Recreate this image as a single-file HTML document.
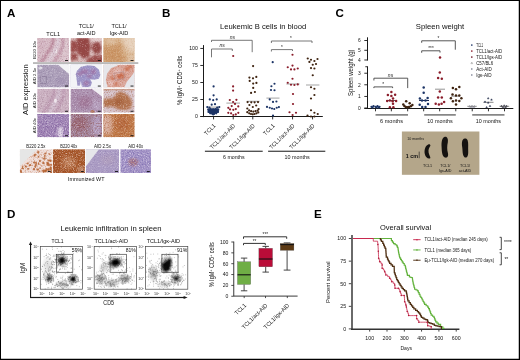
<!DOCTYPE html><html><head><meta charset="utf-8"><style>html,body{margin:0;padding:0;background:#fff;}svg{display:block;will-change:transform;}text{font-family:"Liberation Sans",sans-serif;}</style></head><body>
<svg width="520" height="360" viewBox="0 0 520 360">
<defs>
<filter id="tex" x="0" y="0" width="100%" height="100%"><feTurbulence type="fractalNoise" baseFrequency="0.9" numOctaves="2" seed="3"/><feColorMatrix type="matrix" values="0 0 0 0 0.4  0 0 0 0 0.2  0 0 0 0 0.3  0 0 0 -1.6 1.05"/></filter>
<filter id="texl" x="0" y="0" width="100%" height="100%"><feTurbulence type="fractalNoise" baseFrequency="0.9" numOctaves="2" seed="7"/><feColorMatrix type="matrix" values="0 0 0 0 1  0 0 0 0 1  0 0 0 0 1  0 0 0 1.8 -0.85"/></filter>
<filter id="bl1"><feGaussianBlur stdDeviation="1.2"/></filter>
<filter id="bl2"><feGaussianBlur stdDeviation="2"/></filter>
<filter id="bl05"><feGaussianBlur stdDeviation="0.5"/></filter>
</defs>
<rect x="0.00" y="0.00" width="520.00" height="360.00" fill="#fff"/>
<text x="7.00" y="16.90" font-size="11.6" text-anchor="start" font-weight="bold" fill="#000">A</text>
<text x="162.00" y="16.70" font-size="11.6" text-anchor="start" font-weight="bold" fill="#000">B</text>
<text x="335.40" y="17.30" font-size="11.6" text-anchor="start" font-weight="bold" fill="#000">C</text>
<text x="7.00" y="218.00" font-size="11.6" text-anchor="start" font-weight="bold" fill="#000">D</text>
<text x="314.00" y="217.90" font-size="11.6" text-anchor="start" font-weight="bold" fill="#000">E</text>
<text x="53.20" y="36.20" font-size="5.6" text-anchor="middle" font-weight="normal" fill="#111">TCL1</text>
<text x="86.30" y="28.30" font-size="5.6" text-anchor="middle" font-weight="normal" fill="#111">TCL1/</text>
<text x="86.30" y="34.60" font-size="5.6" text-anchor="middle" font-weight="normal" fill="#111">act-AID</text>
<text x="119.00" y="28.30" font-size="5.6" text-anchor="middle" font-weight="normal" fill="#111">TCL1/</text>
<text x="119.00" y="34.60" font-size="5.6" text-anchor="middle" font-weight="normal" fill="#111">Igκ-AID</text>
<rect x="33.00" y="62.30" width="105.30" height="1.50" fill="#a8a8a8"/>
<text x="35.60" y="50.00" font-size="4.3" text-anchor="middle" font-weight="normal" fill="#111" transform="rotate(-90 35.6 50.0)">B220 10x</text>
<text x="35.60" y="76.00" font-size="4.3" text-anchor="middle" font-weight="normal" fill="#111" transform="rotate(-90 35.6 76.0)">AID 2.5x</text>
<text x="35.60" y="100.70" font-size="4.3" text-anchor="middle" font-weight="normal" fill="#111" transform="rotate(-90 35.6 100.7)">AID 10x</text>
<text x="35.60" y="125.60" font-size="4.3" text-anchor="middle" font-weight="normal" fill="#111" transform="rotate(-90 35.6 125.6)">AID 40x</text>
<text x="27.60" y="89.70" font-size="8.0" text-anchor="middle" font-weight="normal" fill="#111" transform="rotate(-90 27.6 89.7)" textLength="50.6" lengthAdjust="spacingAndGlyphs">AID expression</text>
<clipPath id="c20"><rect x="37.20" y="38.00" width="32.00" height="24.00"/></clipPath>
<g clip-path="url(#c20)">
<rect x="37.20" y="38.00" width="32.00" height="24.00" fill="#dbc4cc"/>
<path d="M37.20,38.00 L51.60,38.00 L46.80,47.60 L39.76,62.00 L37.20,62.00 Z" fill="#d2b4c0" opacity="0.8" filter="url(#bl2)"/>
<path d="M53.84,36.80 L52.24,45.20 L47.76,52.40 L41.04,63.20" fill="none" stroke="#b27a90" stroke-width="2.6" stroke-linejoin="round" opacity="0.85" filter="url(#bl1)"/>
<path d="M63.44,36.80 L62.80,45.20 L59.60,53.60 L53.20,63.20" fill="none" stroke="#b8849a" stroke-width="2.4" stroke-linejoin="round" opacity="0.8" filter="url(#bl1)"/>
<path d="M58.64,36.80 L57.68,45.20 L53.84,52.88 L47.44,63.20" fill="none" stroke="#dccfdc" stroke-width="2.6" stroke-linejoin="round" opacity="0.8" filter="url(#bl1)"/>
<ellipse cx="56.40" cy="51.20" rx="0.8" ry="1.8" fill="#f4eef2" opacity="0.9" filter="url(#bl05)" transform="rotate(0 56.40 51.20)"/>
<filter id="sp1" x="37.20" y="38.00" width="32.00" height="24.00" filterUnits="userSpaceOnUse"><feTurbulence type="fractalNoise" baseFrequency="0.8" numOctaves="3" seed="2" result="n"/><feColorMatrix in="n" type="matrix" values="0 0 0 0 0  0 0 0 0 0  0 0 0 0 0  3.0 0 0 0 -1.5" result="al"/><feFlood flood-color="#a06880" result="f"/><feComposite in="f" in2="al" operator="in"/></filter>
<rect x="37.20" y="38.00" width="32.00" height="24.00" filter="url(#sp1)" opacity="0.45"/>
<filter id="sp2" x="37.20" y="38.00" width="32.00" height="24.00" filterUnits="userSpaceOnUse"><feTurbulence type="fractalNoise" baseFrequency="0.9" numOctaves="3" seed="9" result="n"/><feColorMatrix in="n" type="matrix" values="0 0 0 0 0  0 0 0 0 0  0 0 0 0 0  3.0 0 0 0 -1.6" result="al"/><feFlood flood-color="#f2e8ee" result="f"/><feComposite in="f" in2="al" operator="in"/></filter>
<rect x="37.20" y="38.00" width="32.00" height="24.00" filter="url(#sp2)" opacity="0.45"/>
<rect x="65.00" y="60.10" width="3.00" height="0.90" fill="#111"/>
</g>
<clipPath id="c34"><rect x="70.50" y="38.00" width="31.50" height="24.00"/></clipPath>
<g clip-path="url(#c34)">
<rect x="70.50" y="38.00" width="31.50" height="24.00" fill="#d9bcbc"/>
<path d="M76.80,38.00 L88.77,38.00 L90.66,46.40 L89.40,56.72 L83.10,58.40 L77.43,52.88 L76.17,45.20 Z" fill="#934240" opacity="0.95" filter="url(#bl1)"/>
<path d="M70.50,40.40 L76.80,41.60 L78.06,50.48 L72.08,52.88 L70.50,51.20 Z" fill="#974644" opacity="0.95" filter="url(#bl1)"/>
<path d="M70.50,53.84 L76.80,52.88 L78.06,59.60 L70.50,60.80 Z" fill="#974644" opacity="0.9" filter="url(#bl1)"/>
<path d="M92.55,43.28 L98.85,41.84 L101.69,47.60 L99.80,53.84 L93.81,53.36 L91.29,48.08 Z" fill="#934442" opacity="0.95" filter="url(#bl1)"/>
<path d="M86.88,58.64 L95.70,54.80 L103.58,55.76 L103.58,63.20 L86.25,63.20 Z" fill="#994846" opacity="0.92" filter="url(#bl1)"/>
<path d="M90.03,36.80 L103.58,36.80 L103.58,40.88 L93.18,41.36 Z" fill="#e6d2d2" opacity="0.9" filter="url(#bl1)"/>
<ellipse cx="91.29" cy="52.88" rx="1.5" ry="3" fill="#e4cccc" opacity="0.7" filter="url(#bl1)" transform="rotate(0 91.29 52.88)"/>
<filter id="sp3" x="70.50" y="38.00" width="31.50" height="24.00" filterUnits="userSpaceOnUse"><feTurbulence type="fractalNoise" baseFrequency="0.9" numOctaves="3" seed="3" result="n"/><feColorMatrix in="n" type="matrix" values="0 0 0 0 0  0 0 0 0 0  0 0 0 0 0  3.0 0 0 0 -1.5" result="al"/><feFlood flood-color="#8a3a3a" result="f"/><feComposite in="f" in2="al" operator="in"/></filter>
<rect x="70.50" y="38.00" width="31.50" height="24.00" filter="url(#sp3)" opacity="0.4"/>
<filter id="sp4" x="70.50" y="38.00" width="31.50" height="24.00" filterUnits="userSpaceOnUse"><feTurbulence type="fractalNoise" baseFrequency="0.9" numOctaves="3" seed="11" result="n"/><feColorMatrix in="n" type="matrix" values="0 0 0 0 0  0 0 0 0 0  0 0 0 0 0  3.0 0 0 0 -1.7" result="al"/><feFlood flood-color="#f4e6e6" result="f"/><feComposite in="f" in2="al" operator="in"/></filter>
<rect x="70.50" y="38.00" width="31.50" height="24.00" filter="url(#sp4)" opacity="0.4"/>
<rect x="97.80" y="60.10" width="3.00" height="0.90" fill="#111"/>
</g>
<clipPath id="c50"><rect x="103.30" y="38.00" width="31.40" height="24.00"/></clipPath>
<g clip-path="url(#c50)">
<rect x="103.30" y="38.00" width="31.40" height="24.00" fill="#d9b48e"/>
<path d="M101.73,45.20 L112.72,46.40 L119.00,42.80 L122.77,45.20 L120.57,52.40 L126.85,58.40 L122.14,63.20 L101.73,63.20 Z" fill="#c68c5a" opacity="0.75" filter="url(#bl2)"/>
<path d="M120.57,36.80 L136.27,36.80 L136.27,52.40 L128.42,51.20 L125.28,45.20 Z" fill="#e8d4c0" opacity="0.75" filter="url(#bl2)"/>
<ellipse cx="111.15" cy="40.88" rx="5" ry="3" fill="#e4ccb4" opacity="0.6" filter="url(#bl2)" transform="rotate(0 111.15 40.88)"/>
<ellipse cx="131.56" cy="58.40" rx="4" ry="4" fill="#e6d2c0" opacity="0.6" filter="url(#bl2)" transform="rotate(0 131.56 58.40)"/>
<filter id="sp5" x="103.30" y="38.00" width="31.40" height="24.00" filterUnits="userSpaceOnUse"><feTurbulence type="fractalNoise" baseFrequency="0.8" numOctaves="3" seed="4" result="n"/><feColorMatrix in="n" type="matrix" values="0 0 0 0 0  0 0 0 0 0  0 0 0 0 0  3.0 0 0 0 -1.5" result="al"/><feFlood flood-color="#b06e3a" result="f"/><feComposite in="f" in2="al" operator="in"/></filter>
<rect x="103.30" y="38.00" width="31.40" height="24.00" filter="url(#sp5)" opacity="0.35"/>
<filter id="sp6" x="103.30" y="38.00" width="31.40" height="24.00" filterUnits="userSpaceOnUse"><feTurbulence type="fractalNoise" baseFrequency="0.8" numOctaves="3" seed="13" result="n"/><feColorMatrix in="n" type="matrix" values="0 0 0 0 0  0 0 0 0 0  0 0 0 0 0  3.0 0 0 0 -1.55" result="al"/><feFlood flood-color="#f4e8dc" result="f"/><feComposite in="f" in2="al" operator="in"/></filter>
<rect x="103.30" y="38.00" width="31.40" height="24.00" filter="url(#sp6)" opacity="0.35"/>
<path d="M120.57,36.80 L136.27,36.80 L136.27,52.40 L128.42,51.20 L125.28,45.20 Z" fill="#ecdccc" opacity="0.45" filter="url(#bl2)"/>
<rect x="130.50" y="60.10" width="3.00" height="0.90" fill="#111"/>
</g>
<clipPath id="c64"><rect x="37.20" y="64.50" width="32.00" height="23.00"/></clipPath>
<g clip-path="url(#c64)">
<rect x="37.20" y="64.50" width="32.00" height="23.00" fill="#ada0ba"/>
<rect x="40.20" y="76.50" width="6" height="7" fill="none" stroke="#6a5a7a" stroke-width="0.5" opacity="0.7"/>
<ellipse cx="61.20" cy="80.60" rx="5" ry="4" fill="#a090b0" opacity="0.7" filter="url(#bl2)" transform="rotate(0 61.20 80.60)"/>
<ellipse cx="40.40" cy="67.95" rx="2" ry="1.5" fill="#f0f0f4" opacity="0.8" filter="url(#bl05)" transform="rotate(0 40.40 67.95)"/>
<filter id="sp7" x="37.20" y="64.50" width="32.00" height="23.00" filterUnits="userSpaceOnUse"><feTurbulence type="fractalNoise" baseFrequency="0.8" numOctaves="3" seed="5" result="n"/><feColorMatrix in="n" type="matrix" values="0 0 0 0 0  0 0 0 0 0  0 0 0 0 0  3.0 0 0 0 -1.5" result="al"/><feFlood flood-color="#847498" result="f"/><feComposite in="f" in2="al" operator="in"/></filter>
<rect x="37.20" y="64.50" width="32.00" height="23.00" filter="url(#sp7)" opacity="0.5"/>
<filter id="sp8" x="37.20" y="64.50" width="32.00" height="23.00" filterUnits="userSpaceOnUse"><feTurbulence type="fractalNoise" baseFrequency="0.9" numOctaves="3" seed="15" result="n"/><feColorMatrix in="n" type="matrix" values="0 0 0 0 0  0 0 0 0 0  0 0 0 0 0  3.0 0 0 0 -1.6" result="al"/><feFlood flood-color="#ece8f0" result="f"/><feComposite in="f" in2="al" operator="in"/></filter>
<rect x="37.20" y="64.50" width="32.00" height="23.00" filter="url(#sp8)" opacity="0.45"/>
<path d="M56.40,63.35 L70.80,63.35 L70.80,75.31 L66.00,71.40 Z" fill="#f2f2f5" opacity="1" filter="url(#bl05)"/>
<rect x="65.00" y="85.60" width="3.00" height="0.90" fill="#111"/>
</g>
<clipPath id="c77"><rect x="70.50" y="64.50" width="31.50" height="23.00"/></clipPath>
<g clip-path="url(#c77)">
<rect x="70.50" y="64.50" width="31.50" height="23.00" fill="#9e96c8"/>
<ellipse cx="84.67" cy="71.40" rx="4" ry="2.5" fill="#a06c9c" opacity="0.7" filter="url(#bl1)" transform="rotate(0 84.67 71.40)"/>
<ellipse cx="93.18" cy="71.86" rx="3" ry="2.5" fill="#a06c9c" opacity="0.7" filter="url(#bl1)" transform="rotate(0 93.18 71.86)"/>
<ellipse cx="79.95" cy="73.70" rx="3" ry="2" fill="#a06c9c" opacity="0.6" filter="url(#bl1)" transform="rotate(0 79.95 73.70)"/>
<ellipse cx="89.40" cy="76.00" rx="3" ry="2" fill="#a06c9c" opacity="0.6" filter="url(#bl1)" transform="rotate(0 89.40 76.00)"/>
<ellipse cx="86.25" cy="83.36" rx="3" ry="2.5" fill="#a06c9c" opacity="0.7" filter="url(#bl1)" transform="rotate(0 86.25 83.36)"/>
<filter id="sp9" x="70.50" y="64.50" width="31.50" height="23.00" filterUnits="userSpaceOnUse"><feTurbulence type="fractalNoise" baseFrequency="0.9" numOctaves="3" seed="6" result="n"/><feColorMatrix in="n" type="matrix" values="0 0 0 0 0  0 0 0 0 0  0 0 0 0 0  3.0 0 0 0 -1.45" result="al"/><feFlood flood-color="#8a70a8" result="f"/><feComposite in="f" in2="al" operator="in"/></filter>
<rect x="70.50" y="64.50" width="31.50" height="23.00" filter="url(#sp9)" opacity="0.35"/>
<filter id="sp10" x="70.50" y="64.50" width="31.50" height="23.00" filterUnits="userSpaceOnUse"><feTurbulence type="fractalNoise" baseFrequency="0.9" numOctaves="3" seed="12" result="n"/><feColorMatrix in="n" type="matrix" values="0 0 0 0 0  0 0 0 0 0  0 0 0 0 0  3.0 0 0 0 -1.5" result="al"/><feFlood flood-color="#ecebf6" result="f"/><feComposite in="f" in2="al" operator="in"/></filter>
<rect x="70.50" y="64.50" width="31.50" height="23.00" filter="url(#sp10)" opacity="0.4"/>
<path d="M68.92,63.35 L103.58,63.35 L103.58,88.65 L68.92,88.65 L68.92,76.00 L75.86,74.85 L76.48,78.30 L77.43,85.66 L79.95,85.66 L80.89,81.06 L81.84,86.58 L86.25,87.50 L90.66,86.35 L91.92,82.44 L90.03,79.22 L94.12,79.68 L98.85,78.76 L100.42,74.85 L98.85,69.56 L94.44,66.11 L87.83,65.19 L80.89,66.80 L76.80,70.94 L75.54,74.85 L68.92,76.00 Z" fill="#f3f3f7" opacity="1" filter="url(#bl05)"/>
<rect x="97.80" y="85.60" width="3.00" height="0.90" fill="#111"/>
</g>
<clipPath id="c92"><rect x="103.30" y="64.50" width="31.40" height="23.00"/></clipPath>
<g clip-path="url(#c92)">
<rect x="103.30" y="64.50" width="31.40" height="23.00" fill="#dba89c"/>
<ellipse cx="120.57" cy="76.00" rx="4" ry="3" fill="#c4603e" opacity="0.85" filter="url(#bl1)" transform="rotate(0 120.57 76.00)"/>
<ellipse cx="126.85" cy="69.10" rx="2.5" ry="2" fill="#c4603e" opacity="0.75" filter="url(#bl1)" transform="rotate(0 126.85 69.10)"/>
<ellipse cx="112.72" cy="78.30" rx="2.5" ry="2" fill="#c86a48" opacity="0.75" filter="url(#bl1)" transform="rotate(0 112.72 78.30)"/>
<ellipse cx="115.86" cy="84.05" rx="2.5" ry="2" fill="#c86a48" opacity="0.65" filter="url(#bl1)" transform="rotate(0 115.86 84.05)"/>
<ellipse cx="117.43" cy="71.40" rx="3" ry="2.5" fill="#ecd0d0" opacity="0.6" filter="url(#bl1)" transform="rotate(0 117.43 71.40)"/>
<ellipse cx="111.15" cy="82.90" rx="3" ry="2.5" fill="#ecd0d0" opacity="0.6" filter="url(#bl1)" transform="rotate(0 111.15 82.90)"/>
<ellipse cx="129.99" cy="66.80" rx="2.5" ry="2" fill="#c86a48" opacity="0.7" filter="url(#bl1)" transform="rotate(0 129.99 66.80)"/>
<rect x="114.30" y="72.50" width="10" height="7" fill="none" stroke="#8a7a8a" stroke-width="0.5" opacity="0.6" transform="rotate(-10 119.30 76.00)"/>
<filter id="sp11" x="103.30" y="64.50" width="31.40" height="23.00" filterUnits="userSpaceOnUse"><feTurbulence type="fractalNoise" baseFrequency="0.8" numOctaves="3" seed="7" result="n"/><feColorMatrix in="n" type="matrix" values="0 0 0 0 0  0 0 0 0 0  0 0 0 0 0  3.2 0 0 0 -1.55" result="al"/><feFlood flood-color="#bc5e40" result="f"/><feComposite in="f" in2="al" operator="in"/></filter>
<rect x="103.30" y="64.50" width="31.40" height="23.00" filter="url(#sp11)" opacity="0.45"/>
<filter id="sp12" x="103.30" y="64.50" width="31.40" height="23.00" filterUnits="userSpaceOnUse"><feTurbulence type="fractalNoise" baseFrequency="0.9" numOctaves="3" seed="17" result="n"/><feColorMatrix in="n" type="matrix" values="0 0 0 0 0  0 0 0 0 0  0 0 0 0 0  3.0 0 0 0 -1.6" result="al"/><feFlood flood-color="#f0e4e8" result="f"/><feComposite in="f" in2="al" operator="in"/></filter>
<rect x="103.30" y="64.50" width="31.40" height="23.00" filter="url(#sp12)" opacity="0.4"/>
<path d="M101.73,63.35 L117.43,63.35 L117.43,65.65 L111.15,67.95 L107.07,73.70 L105.81,80.60 L108.01,88.65 L101.73,88.65 Z" fill="#e6e6ea" opacity="1" filter="url(#bl05)"/>
<path d="M136.27,69.10 L131.56,76.00 L126.85,81.75 L123.71,88.65 L136.27,88.65 Z" fill="#e6e6ea" opacity="1" filter="url(#bl05)"/>
<rect x="130.50" y="85.60" width="3.00" height="0.90" fill="#111"/>
</g>
<clipPath id="c111"><rect x="37.20" y="88.70" width="32.00" height="24.00"/></clipPath>
<g clip-path="url(#c111)">
<rect x="37.20" y="88.70" width="32.00" height="24.00" fill="#ccb2c2"/>
<path d="M54.80,87.50 L53.20,95.90 L49.36,103.10 L42.96,113.90" fill="none" stroke="#b48ca8" stroke-width="2.6" stroke-linejoin="round" opacity="0.75" filter="url(#bl1)"/>
<path d="M64.40,87.50 L63.44,95.90 L60.24,104.30 L54.80,113.90" fill="none" stroke="#b890ac" stroke-width="2.4" stroke-linejoin="round" opacity="0.7" filter="url(#bl1)"/>
<path d="M59.60,87.50 L58.32,95.90 L54.80,103.58 L48.72,113.90" fill="none" stroke="#d8cadc" stroke-width="2.6" stroke-linejoin="round" opacity="0.7" filter="url(#bl1)"/>
<ellipse cx="55.44" cy="100.70" rx="1.3" ry="2" fill="#f6f0f4" opacity="0.95" filter="url(#bl05)" transform="rotate(0 55.44 100.70)"/>
<filter id="sp13" x="37.20" y="88.70" width="32.00" height="24.00" filterUnits="userSpaceOnUse"><feTurbulence type="fractalNoise" baseFrequency="0.8" numOctaves="3" seed="8" result="n"/><feColorMatrix in="n" type="matrix" values="0 0 0 0 0  0 0 0 0 0  0 0 0 0 0  3.0 0 0 0 -1.5" result="al"/><feFlood flood-color="#9c7890" result="f"/><feComposite in="f" in2="al" operator="in"/></filter>
<rect x="37.20" y="88.70" width="32.00" height="24.00" filter="url(#sp13)" opacity="0.5"/>
<filter id="sp14" x="37.20" y="88.70" width="32.00" height="24.00" filterUnits="userSpaceOnUse"><feTurbulence type="fractalNoise" baseFrequency="0.9" numOctaves="3" seed="19" result="n"/><feColorMatrix in="n" type="matrix" values="0 0 0 0 0  0 0 0 0 0  0 0 0 0 0  3.0 0 0 0 -1.6" result="al"/><feFlood flood-color="#efe6ee" result="f"/><feComposite in="f" in2="al" operator="in"/></filter>
<rect x="37.20" y="88.70" width="32.00" height="24.00" filter="url(#sp14)" opacity="0.5"/>
<rect x="65.00" y="110.80" width="3.00" height="0.90" fill="#111"/>
</g>
<clipPath id="c124"><rect x="70.50" y="88.70" width="31.50" height="24.00"/></clipPath>
<g clip-path="url(#c124)">
<rect x="70.50" y="88.70" width="31.50" height="24.00" fill="#ae94b2"/>
<ellipse cx="84.67" cy="101.90" rx="7" ry="6" fill="#a07494" opacity="0.8" filter="url(#bl2)" transform="rotate(0 84.67 101.90)"/>
<ellipse cx="75.22" cy="100.70" rx="4" ry="6" fill="#a486a6" opacity="0.6" filter="url(#bl2)" transform="rotate(0 75.22 100.70)"/>
<ellipse cx="97.28" cy="105.50" rx="4" ry="5" fill="#c4b4d0" opacity="0.6" filter="url(#bl2)" transform="rotate(0 97.28 105.50)"/>
<ellipse cx="92.55" cy="111.50" rx="2" ry="1.5" fill="#b0683c" opacity="0.8" filter="url(#bl05)" transform="rotate(0 92.55 111.50)"/>
<filter id="sp15" x="70.50" y="88.70" width="31.50" height="24.00" filterUnits="userSpaceOnUse"><feTurbulence type="fractalNoise" baseFrequency="0.8" numOctaves="3" seed="10" result="n"/><feColorMatrix in="n" type="matrix" values="0 0 0 0 0  0 0 0 0 0  0 0 0 0 0  3.0 0 0 0 -1.45" result="al"/><feFlood flood-color="#84587a" result="f"/><feComposite in="f" in2="al" operator="in"/></filter>
<rect x="70.50" y="88.70" width="31.50" height="24.00" filter="url(#sp15)" opacity="0.5"/>
<filter id="sp16" x="70.50" y="88.70" width="31.50" height="24.00" filterUnits="userSpaceOnUse"><feTurbulence type="fractalNoise" baseFrequency="0.9" numOctaves="3" seed="21" result="n"/><feColorMatrix in="n" type="matrix" values="0 0 0 0 0  0 0 0 0 0  0 0 0 0 0  3.0 0 0 0 -1.55" result="al"/><feFlood flood-color="#e6dcee" result="f"/><feComposite in="f" in2="al" operator="in"/></filter>
<rect x="70.50" y="88.70" width="31.50" height="24.00" filter="url(#sp16)" opacity="0.5"/>
<path d="M90.03,87.50 L103.58,87.50 L103.58,97.82 Z" fill="#f0eef2" opacity="1" filter="url(#bl05)"/>
<rect x="97.80" y="110.80" width="3.00" height="0.90" fill="#111"/>
</g>
<clipPath id="c138"><rect x="103.30" y="88.70" width="31.40" height="24.00"/></clipPath>
<g clip-path="url(#c138)">
<rect x="103.30" y="88.70" width="31.40" height="24.00" fill="#d6c4cc"/>
<path d="M103.30,98.78 L112.72,98.30 L116.49,93.50 L119.63,91.58 L124.02,92.54 L129.05,96.38 L132.19,101.90 L131.56,107.90 L125.91,110.30 L117.43,109.34 L112.72,106.46 L103.30,106.94 Z" fill="#b27048" opacity="0.95" filter="url(#bl1)"/>
<path d="M103.30,88.70 L134.70,88.70 L134.70,90.38 L103.30,90.38 Z" fill="#c08868" opacity="0.6" filter="url(#bl05)"/>
<ellipse cx="119.00" cy="101.90" rx="4" ry="3" fill="#a05a34" opacity="0.6" filter="url(#bl1)" transform="rotate(0 119.00 101.90)"/>
<filter id="sp17" x="103.30" y="88.70" width="31.40" height="24.00" filterUnits="userSpaceOnUse"><feTurbulence type="fractalNoise" baseFrequency="0.8" numOctaves="3" seed="12" result="n"/><feColorMatrix in="n" type="matrix" values="0 0 0 0 0  0 0 0 0 0  0 0 0 0 0  3.2 0 0 0 -1.6" result="al"/><feFlood flood-color="#9c5634" result="f"/><feComposite in="f" in2="al" operator="in"/></filter>
<rect x="103.30" y="88.70" width="31.40" height="24.00" filter="url(#sp17)" opacity="0.45"/>
<filter id="sp18" x="103.30" y="88.70" width="31.40" height="24.00" filterUnits="userSpaceOnUse"><feTurbulence type="fractalNoise" baseFrequency="0.9" numOctaves="3" seed="23" result="n"/><feColorMatrix in="n" type="matrix" values="0 0 0 0 0  0 0 0 0 0  0 0 0 0 0  3.0 0 0 0 -1.6" result="al"/><feFlood flood-color="#f4eaee" result="f"/><feComposite in="f" in2="al" operator="in"/></filter>
<rect x="103.30" y="88.70" width="31.40" height="24.00" filter="url(#sp18)" opacity="0.45"/>
<rect x="130.50" y="110.80" width="3.00" height="0.90" fill="#111"/>
</g>
<clipPath id="c150"><rect x="37.20" y="114.00" width="32.00" height="23.20"/></clipPath>
<g clip-path="url(#c150)">
<rect x="37.20" y="114.00" width="32.00" height="23.20" fill="#a286b6"/>
<ellipse cx="60.24" cy="132.56" rx="3" ry="6" fill="#ece4f0" opacity="0.85" filter="url(#bl1)" transform="rotate(0 60.24 132.56)"/>
<ellipse cx="46.80" cy="120.96" rx="6" ry="4" fill="#b4a0c6" opacity="0.5" filter="url(#bl2)" transform="rotate(0 46.80 120.96)"/>
<filter id="sp19" x="37.20" y="114.00" width="32.00" height="23.20" filterUnits="userSpaceOnUse"><feTurbulence type="fractalNoise" baseFrequency="0.9" numOctaves="3" seed="14" result="n"/><feColorMatrix in="n" type="matrix" values="0 0 0 0 0  0 0 0 0 0  0 0 0 0 0  3.0 0 0 0 -1.35" result="al"/><feFlood flood-color="#6e4e90" result="f"/><feComposite in="f" in2="al" operator="in"/></filter>
<rect x="37.20" y="114.00" width="32.00" height="23.20" filter="url(#sp19)" opacity="0.6"/>
<filter id="sp20" x="37.20" y="114.00" width="32.00" height="23.20" filterUnits="userSpaceOnUse"><feTurbulence type="fractalNoise" baseFrequency="0.9" numOctaves="3" seed="25" result="n"/><feColorMatrix in="n" type="matrix" values="0 0 0 0 0  0 0 0 0 0  0 0 0 0 0  3.0 0 0 0 -1.5" result="al"/><feFlood flood-color="#f0eaf4" result="f"/><feComposite in="f" in2="al" operator="in"/></filter>
<rect x="37.20" y="114.00" width="32.00" height="23.20" filter="url(#sp20)" opacity="0.55"/>
<rect x="65.00" y="135.30" width="3.00" height="0.90" fill="#111"/>
</g>
<clipPath id="c161"><rect x="70.50" y="114.00" width="31.50" height="23.20"/></clipPath>
<g clip-path="url(#c161)">
<rect x="70.50" y="114.00" width="31.50" height="23.20" fill="#a4869e"/>
<ellipse cx="79.95" cy="123.28" rx="8" ry="8" fill="#986270" opacity="0.7" filter="url(#bl2)" transform="rotate(0 79.95 123.28)"/>
<ellipse cx="97.28" cy="125.60" rx="5" ry="10" fill="#bcacd2" opacity="0.7" filter="url(#bl2)" transform="rotate(0 97.28 125.60)"/>
<filter id="sp21" x="70.50" y="114.00" width="31.50" height="23.20" filterUnits="userSpaceOnUse"><feTurbulence type="fractalNoise" baseFrequency="0.9" numOctaves="3" seed="16" result="n"/><feColorMatrix in="n" type="matrix" values="0 0 0 0 0  0 0 0 0 0  0 0 0 0 0  3.0 0 0 0 -1.4" result="al"/><feFlood flood-color="#843c2c" result="f"/><feComposite in="f" in2="al" operator="in"/></filter>
<rect x="70.50" y="114.00" width="31.50" height="23.20" filter="url(#sp21)" opacity="0.55"/>
<filter id="sp22" x="70.50" y="114.00" width="31.50" height="23.20" filterUnits="userSpaceOnUse"><feTurbulence type="fractalNoise" baseFrequency="0.9" numOctaves="3" seed="27" result="n"/><feColorMatrix in="n" type="matrix" values="0 0 0 0 0  0 0 0 0 0  0 0 0 0 0  3.0 0 0 0 -1.5" result="al"/><feFlood flood-color="#e8e0f0" result="f"/><feComposite in="f" in2="al" operator="in"/></filter>
<rect x="70.50" y="114.00" width="31.50" height="23.20" filter="url(#sp22)" opacity="0.5"/>
<rect x="97.80" y="135.30" width="3.00" height="0.90" fill="#111"/>
</g>
<clipPath id="c172"><rect x="103.30" y="114.00" width="31.40" height="23.20"/></clipPath>
<g clip-path="url(#c172)">
<rect x="103.30" y="114.00" width="31.40" height="23.20" fill="#c27c4a"/>
<ellipse cx="107.07" cy="124.44" rx="6" ry="11" fill="#e0c0bc" opacity="0.75" filter="url(#bl2)" transform="rotate(0 107.07 124.44)"/>
<ellipse cx="122.14" cy="123.28" rx="8" ry="8" fill="#b4643a" opacity="0.6" filter="url(#bl2)" transform="rotate(0 122.14 123.28)"/>
<filter id="sp23" x="103.30" y="114.00" width="31.40" height="23.20" filterUnits="userSpaceOnUse"><feTurbulence type="fractalNoise" baseFrequency="0.9" numOctaves="3" seed="18" result="n"/><feColorMatrix in="n" type="matrix" values="0 0 0 0 0  0 0 0 0 0  0 0 0 0 0  3.0 0 0 0 -1.4" result="al"/><feFlood flood-color="#a0542a" result="f"/><feComposite in="f" in2="al" operator="in"/></filter>
<rect x="103.30" y="114.00" width="31.40" height="23.20" filter="url(#sp23)" opacity="0.55"/>
<filter id="sp24" x="103.30" y="114.00" width="31.40" height="23.20" filterUnits="userSpaceOnUse"><feTurbulence type="fractalNoise" baseFrequency="0.9" numOctaves="3" seed="29" result="n"/><feColorMatrix in="n" type="matrix" values="0 0 0 0 0  0 0 0 0 0  0 0 0 0 0  3.0 0 0 0 -1.5" result="al"/><feFlood flood-color="#f4e4dc" result="f"/><feComposite in="f" in2="al" operator="in"/></filter>
<rect x="103.30" y="114.00" width="31.40" height="23.20" filter="url(#sp24)" opacity="0.5"/>
<rect x="130.50" y="135.30" width="3.00" height="0.90" fill="#111"/>
</g>
<clipPath id="c183"><rect x="19.90" y="149.20" width="32.00" height="23.80"/></clipPath>
<g clip-path="url(#c183)">
<rect x="19.90" y="149.20" width="32.00" height="23.80" fill="#f0e0dc"/>
<ellipse cx="34.38" cy="162.52" rx="1.5317895256213565" ry="1.0259550490698413" fill="#b4602e" opacity="0.85" filter="url(#bl05)" transform="rotate(0 34.38 162.52)"/>
<ellipse cx="36.15" cy="163.18" rx="0.8661943094693889" ry="1.0583360473292638" fill="#b4602e" opacity="0.85" filter="url(#bl05)" transform="rotate(0 36.15 163.18)"/>
<ellipse cx="40.06" cy="168.07" rx="0.7847111106062966" ry="0.9123808838371678" fill="#b4602e" opacity="0.85" filter="url(#bl05)" transform="rotate(0 40.06 168.07)"/>
<ellipse cx="22.80" cy="168.47" rx="1.3240946342871154" ry="0.7293162354588921" fill="#b4602e" opacity="0.85" filter="url(#bl05)" transform="rotate(0 22.80 168.47)"/>
<ellipse cx="51.33" cy="172.16" rx="1.2885302801804563" ry="1.1308938932049994" fill="#b4602e" opacity="0.85" filter="url(#bl05)" transform="rotate(0 51.33 172.16)"/>
<ellipse cx="34.00" cy="169.25" rx="1.167211703287669" ry="1.148204195543424" fill="#b4602e" opacity="0.85" filter="url(#bl05)" transform="rotate(0 34.00 169.25)"/>
<ellipse cx="35.89" cy="164.97" rx="1.1115968934396019" ry="0.89471402976472" fill="#b4602e" opacity="0.85" filter="url(#bl05)" transform="rotate(0 35.89 164.97)"/>
<ellipse cx="51.82" cy="172.90" rx="1.4561939945435758" ry="1.1954667350485646" fill="#b4602e" opacity="0.85" filter="url(#bl05)" transform="rotate(0 51.82 172.90)"/>
<ellipse cx="44.42" cy="158.73" rx="1.4619252596930608" ry="0.9705594721941541" fill="#b4602e" opacity="0.85" filter="url(#bl05)" transform="rotate(0 44.42 158.73)"/>
<ellipse cx="50.56" cy="169.37" rx="0.7004904433500134" ry="0.8468021903107277" fill="#b4602e" opacity="0.85" filter="url(#bl05)" transform="rotate(0 50.56 169.37)"/>
<ellipse cx="49.03" cy="160.39" rx="1.582323047056863" ry="0.9781970716554967" fill="#b4602e" opacity="0.85" filter="url(#bl05)" transform="rotate(0 49.03 160.39)"/>
<ellipse cx="44.81" cy="155.62" rx="0.778429778516953" ry="0.9328099378243435" fill="#b4602e" opacity="0.85" filter="url(#bl05)" transform="rotate(0 44.81 155.62)"/>
<ellipse cx="50.75" cy="167.24" rx="0.8061925114775956" ry="0.8724715642251909" fill="#b4602e" opacity="0.85" filter="url(#bl05)" transform="rotate(0 50.75 167.24)"/>
<ellipse cx="45.40" cy="153.43" rx="1.2033656274493554" ry="1.013197414250715" fill="#b4602e" opacity="0.85" filter="url(#bl05)" transform="rotate(0 45.40 153.43)"/>
<ellipse cx="26.00" cy="166.62" rx="0.8178703753449577" ry="1.1506005865978168" fill="#b4602e" opacity="0.85" filter="url(#bl05)" transform="rotate(0 26.00 166.62)"/>
<ellipse cx="50.97" cy="168.32" rx="0.9737306348838906" ry="1.3194055789242793" fill="#b4602e" opacity="0.85" filter="url(#bl05)" transform="rotate(0 50.97 168.32)"/>
<ellipse cx="47.24" cy="164.48" rx="0.7902994769654946" ry="1.3925111882571206" fill="#b4602e" opacity="0.85" filter="url(#bl05)" transform="rotate(0 47.24 164.48)"/>
<ellipse cx="44.63" cy="157.03" rx="0.9666922863390517" ry="0.7513789873718969" fill="#b4602e" opacity="0.85" filter="url(#bl05)" transform="rotate(0 44.63 157.03)"/>
<ellipse cx="27.68" cy="163.51" rx="1.0345336419339053" ry="1.0172456733066944" fill="#b4602e" opacity="0.85" filter="url(#bl05)" transform="rotate(0 27.68 163.51)"/>
<ellipse cx="50.59" cy="160.71" rx="1.217114120886953" ry="1.3065679674615556" fill="#b4602e" opacity="0.85" filter="url(#bl05)" transform="rotate(0 50.59 160.71)"/>
<ellipse cx="48.97" cy="168.66" rx="0.9245487097863246" ry="0.832860466174282" fill="#b4602e" opacity="0.85" filter="url(#bl05)" transform="rotate(0 48.97 168.66)"/>
<ellipse cx="43.56" cy="171.58" rx="0.8769308158626898" ry="1.3650950966160518" fill="#b4602e" opacity="0.85" filter="url(#bl05)" transform="rotate(0 43.56 171.58)"/>
<ellipse cx="48.13" cy="163.56" rx="1.079311501552622" ry="0.7726877769554635" fill="#b4602e" opacity="0.85" filter="url(#bl05)" transform="rotate(0 48.13 163.56)"/>
<ellipse cx="21.14" cy="172.11" rx="0.9145664734083845" ry="1.1932056223908638" fill="#b4602e" opacity="0.85" filter="url(#bl05)" transform="rotate(0 21.14 172.11)"/>
<ellipse cx="28.12" cy="168.80" rx="1.236819675876942" ry="0.9054047425393159" fill="#b4602e" opacity="0.85" filter="url(#bl05)" transform="rotate(0 28.12 168.80)"/>
<ellipse cx="25.51" cy="166.34" rx="0.7618985117506992" ry="0.8598774361275876" fill="#b4602e" opacity="0.85" filter="url(#bl05)" transform="rotate(0 25.51 166.34)"/>
<ellipse cx="37.80" cy="169.49" rx="1.2528727141523812" ry="0.8961535747995985" fill="#b4602e" opacity="0.85" filter="url(#bl05)" transform="rotate(0 37.80 169.49)"/>
<ellipse cx="49.26" cy="154.05" rx="0.7149173137712396" ry="0.8884357496201887" fill="#b4602e" opacity="0.85" filter="url(#bl05)" transform="rotate(0 49.26 154.05)"/>
<ellipse cx="38.21" cy="152.33" rx="1.0259306410295328" ry="1.3236581609788687" fill="#b4602e" opacity="0.85" filter="url(#bl05)" transform="rotate(0 38.21 152.33)"/>
<ellipse cx="51.28" cy="164.83" rx="1.3220994321237882" ry="1.1091081877261253" fill="#b4602e" opacity="0.85" filter="url(#bl05)" transform="rotate(0 51.28 164.83)"/>
<ellipse cx="20.47" cy="170.86" rx="1.3308730168687122" ry="1.373939709540302" fill="#b4602e" opacity="0.85" filter="url(#bl05)" transform="rotate(0 20.47 170.86)"/>
<ellipse cx="35.33" cy="166.59" rx="0.9870140412669273" ry="1.3995503384672285" fill="#b4602e" opacity="0.85" filter="url(#bl05)" transform="rotate(0 35.33 166.59)"/>
<ellipse cx="43.48" cy="170.62" rx="1.363379320974904" ry="1.192583433469244" fill="#b4602e" opacity="0.85" filter="url(#bl05)" transform="rotate(0 43.48 170.62)"/>
<ellipse cx="45.28" cy="170.98" rx="1.0166506869825285" ry="1.1796021687335885" fill="#b4602e" opacity="0.85" filter="url(#bl05)" transform="rotate(0 45.28 170.98)"/>
<ellipse cx="48.73" cy="169.93" rx="1.0754378277794674" ry="1.2533724004118796" fill="#b4602e" opacity="0.85" filter="url(#bl05)" transform="rotate(0 48.73 169.93)"/>
<ellipse cx="47.53" cy="162.83" rx="1.2624644919934773" ry="0.9676334691451749" fill="#b4602e" opacity="0.85" filter="url(#bl05)" transform="rotate(0 47.53 162.83)"/>
<ellipse cx="38.55" cy="163.69" rx="0.7721818259476392" ry="1.1475830188461111" fill="#b4602e" opacity="0.85" filter="url(#bl05)" transform="rotate(0 38.55 163.69)"/>
<ellipse cx="51.69" cy="170.14" rx="1.3553863689089931" ry="0.9719054322986008" fill="#b4602e" opacity="0.85" filter="url(#bl05)" transform="rotate(0 51.69 170.14)"/>
<ellipse cx="43.42" cy="163.03" rx="1.0964702458408475" ry="1.286859020433398" fill="#b4602e" opacity="0.85" filter="url(#bl05)" transform="rotate(0 43.42 163.03)"/>
<ellipse cx="22.58" cy="167.06" rx="0.7268108470679184" ry="1.1208996851847512" fill="#b4602e" opacity="0.85" filter="url(#bl05)" transform="rotate(0 22.58 167.06)"/>
<ellipse cx="35.29" cy="154.68" rx="1.3285012118637296" ry="1.0480754043606093" fill="#b4602e" opacity="0.85" filter="url(#bl05)" transform="rotate(0 35.29 154.68)"/>
<ellipse cx="39.56" cy="171.11" rx="0.9302471980957434" ry="0.7079150435147132" fill="#b4602e" opacity="0.85" filter="url(#bl05)" transform="rotate(0 39.56 171.11)"/>
<ellipse cx="29.53" cy="165.34" rx="0.8823169720661279" ry="0.8187250072333208" fill="#b4602e" opacity="0.85" filter="url(#bl05)" transform="rotate(0 29.53 165.34)"/>
<ellipse cx="48.88" cy="164.91" rx="1.097739232692718" ry="1.3242088442224158" fill="#b4602e" opacity="0.85" filter="url(#bl05)" transform="rotate(0 48.88 164.91)"/>
<ellipse cx="30.36" cy="165.05" rx="0.8786552009787844" ry="1.0016266976490587" fill="#b4602e" opacity="0.85" filter="url(#bl05)" transform="rotate(0 30.36 165.05)"/>
<ellipse cx="45.69" cy="170.96" rx="1.4922420262751754" ry="0.969093078029932" fill="#b4602e" opacity="0.85" filter="url(#bl05)" transform="rotate(0 45.69 170.96)"/>
<ellipse cx="38.56" cy="156.73" rx="0.8225586937449683" ry="1.0475269291216254" fill="#b4602e" opacity="0.85" filter="url(#bl05)" transform="rotate(0 38.56 156.73)"/>
<ellipse cx="46.69" cy="169.40" rx="1.340095985365846" ry="1.3650001062918604" fill="#b4602e" opacity="0.85" filter="url(#bl05)" transform="rotate(0 46.69 169.40)"/>
<ellipse cx="34.32" cy="155.75" rx="0.8926723394379505" ry="0.9897893605216119" fill="#b4602e" opacity="0.85" filter="url(#bl05)" transform="rotate(0 34.32 155.75)"/>
<ellipse cx="39.92" cy="160.95" rx="0.983834480826921" ry="1.287382888714458" fill="#b4602e" opacity="0.85" filter="url(#bl05)" transform="rotate(0 39.92 160.95)"/>
<filter id="sp25" x="19.90" y="149.20" width="32.00" height="23.80" filterUnits="userSpaceOnUse"><feTurbulence type="fractalNoise" baseFrequency="0.9" numOctaves="3" seed="31" result="n"/><feColorMatrix in="n" type="matrix" values="0 0 0 0 0  0 0 0 0 0  0 0 0 0 0  3.2 0 0 0 -1.5" result="al"/><feFlood flood-color="#c47a54" result="f"/><feComposite in="f" in2="al" operator="in"/></filter>
<rect x="19.90" y="149.20" width="32.00" height="23.80" filter="url(#sp25)" opacity="0.6"/>
<path d="M18.30,148.01 L38.46,148.01 L18.30,167.76 Z" fill="#e6e6e6" opacity="1" filter="url(#bl05)"/>
<rect x="47.70" y="171.10" width="3.00" height="0.90" fill="#111"/>
</g>
<clipPath id="c241"><rect x="52.70" y="149.20" width="32.30" height="23.80"/></clipPath>
<g clip-path="url(#c241)">
<rect x="52.70" y="149.20" width="32.30" height="23.80" fill="#a8582c"/>
<ellipse cx="68.85" cy="162.29" rx="7" ry="6" fill="#d4a080" opacity="0.6" filter="url(#bl2)" transform="rotate(0 68.85 162.29)"/>
<ellipse cx="81.77" cy="169.43" rx="4" ry="3" fill="#e8d0c4" opacity="0.6" filter="url(#bl2)" transform="rotate(0 81.77 169.43)"/>
<filter id="sp26" x="52.70" y="149.20" width="32.30" height="23.80" filterUnits="userSpaceOnUse"><feTurbulence type="fractalNoise" baseFrequency="0.9" numOctaves="3" seed="33" result="n"/><feColorMatrix in="n" type="matrix" values="0 0 0 0 0  0 0 0 0 0  0 0 0 0 0  3.0 0 0 0 -1.4" result="al"/><feFlood flood-color="#8c4018" result="f"/><feComposite in="f" in2="al" operator="in"/></filter>
<rect x="52.70" y="149.20" width="32.30" height="23.80" filter="url(#sp26)" opacity="0.6"/>
<filter id="sp27" x="52.70" y="149.20" width="32.30" height="23.80" filterUnits="userSpaceOnUse"><feTurbulence type="fractalNoise" baseFrequency="0.9" numOctaves="3" seed="35" result="n"/><feColorMatrix in="n" type="matrix" values="0 0 0 0 0  0 0 0 0 0  0 0 0 0 0  3.0 0 0 0 -1.45" result="al"/><feFlood flood-color="#f2dcd0" result="f"/><feComposite in="f" in2="al" operator="in"/></filter>
<rect x="52.70" y="149.20" width="32.30" height="23.80" filter="url(#sp27)" opacity="0.65"/>
<rect x="80.80" y="171.10" width="3.00" height="0.90" fill="#111"/>
</g>
<clipPath id="c252"><rect x="85.80" y="149.20" width="33.40" height="23.80"/></clipPath>
<g clip-path="url(#c252)">
<rect x="85.80" y="149.20" width="33.40" height="23.80" fill="#ab9cc4"/>
<ellipse cx="107.51" cy="159.91" rx="7" ry="5" fill="#b4a0bc" opacity="0.6" filter="url(#bl2)" transform="rotate(0 107.51 159.91)"/>
<filter id="sp28" x="85.80" y="149.20" width="33.40" height="23.80" filterUnits="userSpaceOnUse"><feTurbulence type="fractalNoise" baseFrequency="0.9" numOctaves="3" seed="37" result="n"/><feColorMatrix in="n" type="matrix" values="0 0 0 0 0  0 0 0 0 0  0 0 0 0 0  3.0 0 0 0 -1.5" result="al"/><feFlood flood-color="#8a78aa" result="f"/><feComposite in="f" in2="al" operator="in"/></filter>
<rect x="85.80" y="149.20" width="33.40" height="23.80" filter="url(#sp28)" opacity="0.5"/>
<filter id="sp29" x="85.80" y="149.20" width="33.40" height="23.80" filterUnits="userSpaceOnUse"><feTurbulence type="fractalNoise" baseFrequency="0.9" numOctaves="3" seed="39" result="n"/><feColorMatrix in="n" type="matrix" values="0 0 0 0 0  0 0 0 0 0  0 0 0 0 0  3.0 0 0 0 -1.6" result="al"/><feFlood flood-color="#ece6f0" result="f"/><feComposite in="f" in2="al" operator="in"/></filter>
<rect x="85.80" y="149.20" width="33.40" height="23.80" filter="url(#sp29)" opacity="0.5"/>
<path d="M84.13,148.01 L99.83,148.01 L84.13,168.72 Z" fill="#e6e6ea" opacity="1" filter="url(#bl05)"/>
<rect x="115.00" y="171.10" width="3.00" height="0.90" fill="#111"/>
</g>
<clipPath id="c263"><rect x="120.30" y="149.20" width="30.70" height="23.80"/></clipPath>
<g clip-path="url(#c263)">
<rect x="120.30" y="149.20" width="30.70" height="23.80" fill="#a494c6"/>
<ellipse cx="133.19" cy="162.29" rx="5" ry="4" fill="#a86a6a" opacity="0.7" filter="url(#bl1)" transform="rotate(0 133.19 162.29)"/>
<filter id="sp30" x="120.30" y="149.20" width="30.70" height="23.80" filterUnits="userSpaceOnUse"><feTurbulence type="fractalNoise" baseFrequency="0.9" numOctaves="3" seed="41" result="n"/><feColorMatrix in="n" type="matrix" values="0 0 0 0 0  0 0 0 0 0  0 0 0 0 0  3.0 0 0 0 -1.4" result="al"/><feFlood flood-color="#6e5ea8" result="f"/><feComposite in="f" in2="al" operator="in"/></filter>
<rect x="120.30" y="149.20" width="30.70" height="23.80" filter="url(#sp30)" opacity="0.6"/>
<filter id="sp31" x="120.30" y="149.20" width="30.70" height="23.80" filterUnits="userSpaceOnUse"><feTurbulence type="fractalNoise" baseFrequency="0.9" numOctaves="3" seed="43" result="n"/><feColorMatrix in="n" type="matrix" values="0 0 0 0 0  0 0 0 0 0  0 0 0 0 0  3.0 0 0 0 -1.45" result="al"/><feFlood flood-color="#eee8f6" result="f"/><feComposite in="f" in2="al" operator="in"/></filter>
<rect x="120.30" y="149.20" width="30.70" height="23.80" filter="url(#sp31)" opacity="0.6"/>
<rect x="146.80" y="171.10" width="3.00" height="0.90" fill="#111"/>
</g>
<text x="35.90" y="148.40" font-size="4.6" text-anchor="middle" font-weight="normal" fill="#111" textLength="19.080000000000002" lengthAdjust="spacingAndGlyphs">B220 2.5x</text>
<text x="68.85" y="148.40" font-size="4.6" text-anchor="middle" font-weight="normal" fill="#111" textLength="16.96" lengthAdjust="spacingAndGlyphs">B220 40x</text>
<text x="102.50" y="148.40" font-size="4.6" text-anchor="middle" font-weight="normal" fill="#111" textLength="16.96" lengthAdjust="spacingAndGlyphs">AID 2.5x</text>
<text x="135.65" y="148.40" font-size="4.6" text-anchor="middle" font-weight="normal" fill="#111" textLength="14.84" lengthAdjust="spacingAndGlyphs">AID 40x</text>
<text x="86.30" y="180.70" font-size="6.1" text-anchor="middle" font-weight="normal" fill="#111" textLength="36.5" lengthAdjust="spacingAndGlyphs">Immunized WT</text>
<text x="263.10" y="29.20" font-size="7.5" text-anchor="middle" font-weight="normal" fill="#111" textLength="86.2" lengthAdjust="spacingAndGlyphs">Leukemic B cells in blood</text>
<rect x="203.00" y="45.10" width="1.00" height="72.00" fill="#1a1a1a"/>
<rect x="200.30" y="116.05" width="3.00" height="0.90" fill="#1a1a1a"/>
<text x="197.90" y="118.40" font-size="5.2" text-anchor="end" font-weight="normal" fill="#151515">0</text>
<rect x="200.30" y="99.02" width="3.00" height="0.90" fill="#1a1a1a"/>
<text x="197.90" y="101.38" font-size="5.2" text-anchor="end" font-weight="normal" fill="#151515">25</text>
<rect x="200.30" y="82.00" width="3.00" height="0.90" fill="#1a1a1a"/>
<text x="197.90" y="84.35" font-size="5.2" text-anchor="end" font-weight="normal" fill="#151515">50</text>
<rect x="200.30" y="64.97" width="3.00" height="0.90" fill="#1a1a1a"/>
<text x="197.90" y="67.33" font-size="5.2" text-anchor="end" font-weight="normal" fill="#151515">75</text>
<rect x="200.30" y="47.95" width="3.00" height="0.90" fill="#1a1a1a"/>
<text x="197.90" y="50.30" font-size="5.2" text-anchor="end" font-weight="normal" fill="#151515">100</text>
<text x="182.00" y="80.40" font-size="6.3" text-anchor="middle" font-weight="normal" fill="#151515" transform="rotate(-90 182.0 80.4)" textLength="49.2" lengthAdjust="spacingAndGlyphs">% IgM<tspan dy="-2" font-size="4.2">+</tspan><tspan dy="2"> CD5</tspan><tspan dy="-2" font-size="4.2">+</tspan><tspan dy="2"> cells</tspan></text>
<rect x="200.30" y="116.00" width="122.50" height="1.00" fill="#1a1a1a"/>
<rect x="213.15" y="116.50" width="0.90" height="2.90" fill="#1a1a1a"/>
<text x="216.00" y="126.20" font-size="5.8" text-anchor="end" font-weight="normal" fill="#151515" transform="rotate(-45 216.0 126.2)" textLength="13.5" lengthAdjust="spacingAndGlyphs">TCL1</text>
<rect x="232.75" y="116.50" width="0.90" height="2.90" fill="#1a1a1a"/>
<text x="235.60" y="126.20" font-size="5.8" text-anchor="end" font-weight="normal" fill="#151515" transform="rotate(-45 235.6 126.2)" textLength="33.0" lengthAdjust="spacingAndGlyphs">TCL1/act-AID</text>
<rect x="252.35" y="116.50" width="0.90" height="2.90" fill="#1a1a1a"/>
<text x="255.20" y="126.20" font-size="5.8" text-anchor="end" font-weight="normal" fill="#151515" transform="rotate(-45 255.20000000000002 126.2)" textLength="33.0" lengthAdjust="spacingAndGlyphs">TCL1/Igκ-AID</text>
<rect x="272.25" y="116.50" width="0.90" height="2.90" fill="#1a1a1a"/>
<text x="275.10" y="126.20" font-size="5.8" text-anchor="end" font-weight="normal" fill="#151515" transform="rotate(-45 275.09999999999997 126.2)" textLength="13.5" lengthAdjust="spacingAndGlyphs">TCL1</text>
<rect x="292.15" y="116.50" width="0.90" height="2.90" fill="#1a1a1a"/>
<text x="295.00" y="126.20" font-size="5.8" text-anchor="end" font-weight="normal" fill="#151515" transform="rotate(-45 295.0 126.2)" textLength="33.0" lengthAdjust="spacingAndGlyphs">TCL1/act-AID</text>
<rect x="312.15" y="116.50" width="0.90" height="2.90" fill="#1a1a1a"/>
<text x="315.00" y="126.20" font-size="5.8" text-anchor="end" font-weight="normal" fill="#151515" transform="rotate(-45 315.0 126.2)" textLength="33.0" lengthAdjust="spacingAndGlyphs">TCL1/Igκ-AID</text>
<rect x="204.90" y="150.70" width="57.80" height="1.10" fill="#2a2a2a"/>
<rect x="268.10" y="150.70" width="57.20" height="1.10" fill="#2a2a2a"/>
<text x="233.80" y="159.10" font-size="5.3" text-anchor="middle" font-weight="normal" fill="#151515" textLength="21.6" lengthAdjust="spacingAndGlyphs">6 months</text>
<text x="297.00" y="159.10" font-size="5.3" text-anchor="middle" font-weight="normal" fill="#151515" textLength="25.2" lengthAdjust="spacingAndGlyphs">10 months</text>
<polyline points="211.50,42.00 211.50,40.30 252.20,40.30 252.20,52.20" stroke="#555" stroke-width="0.8" fill="none"/>
<polyline points="211.50,57.30 211.50,49.00 232.30,49.00 232.30,51.00" stroke="#555" stroke-width="0.8" fill="none"/>
<text x="232.40" y="38.80" font-size="5.0" text-anchor="middle" font-weight="normal" fill="#222" font-style="italic">ns</text>
<text x="222.10" y="47.30" font-size="5.0" text-anchor="middle" font-weight="normal" fill="#222" font-style="italic">ns</text>
<polyline points="271.40,43.00 271.40,41.00 312.00,41.00 312.00,43.00" stroke="#555" stroke-width="0.8" fill="none"/>
<polyline points="271.40,51.50 271.40,49.60 292.50,49.60 292.50,51.00" stroke="#555" stroke-width="0.8" fill="none"/>
<text x="291.00" y="40.00" font-size="4.6" text-anchor="middle" font-weight="normal" fill="#222">*</text>
<text x="282.00" y="48.50" font-size="4.6" text-anchor="middle" font-weight="normal" fill="#222">*</text>
<line x1="206.90" y1="107.10" x2="220.00" y2="107.10" stroke="#999" stroke-width="0.9"/>
<line x1="226.40" y1="103.10" x2="240.00" y2="103.10" stroke="#999" stroke-width="0.9"/>
<line x1="246.80" y1="101.30" x2="259.60" y2="101.30" stroke="#999" stroke-width="0.9"/>
<line x1="266.40" y1="98.10" x2="279.50" y2="98.10" stroke="#999" stroke-width="0.9"/>
<line x1="286.40" y1="84.00" x2="299.50" y2="84.00" stroke="#999" stroke-width="0.9"/>
<line x1="306.00" y1="85.00" x2="319.40" y2="85.00" stroke="#999" stroke-width="0.9"/>
<path d="M207.6,108.3 L210,108.6 L213.2,108.3 L216.4,108.6 L218.8,108.3 L218.4,111 L219,112.4 L216,113.6 L213.2,114.6 L210.4,113.6 L207.6,112.4 L208.1,111 Z" fill="#1c3466"/>
<circle cx="213.60" cy="86.40" r="1.1" fill="#1c3466"/>
<circle cx="213.60" cy="95.30" r="1.1" fill="#1c3466"/>
<circle cx="209.80" cy="99.40" r="1.1" fill="#1c3466"/>
<circle cx="213.20" cy="100.20" r="1.1" fill="#1c3466"/>
<circle cx="216.70" cy="99.40" r="1.1" fill="#1c3466"/>
<circle cx="211.70" cy="104.70" r="1.1" fill="#1c3466"/>
<circle cx="215.00" cy="104.20" r="1.1" fill="#1c3466"/>
<circle cx="207.30" cy="107.10" r="1.1" fill="#1c3466"/>
<circle cx="219.30" cy="107.10" r="1.1" fill="#1c3466"/>
<circle cx="209.50" cy="107.60" r="1.1" fill="#1c3466"/>
<circle cx="217.20" cy="107.60" r="1.1" fill="#1c3466"/>
<circle cx="208.20" cy="109.80" r="1.1" fill="#1c3466"/>
<circle cx="210.50" cy="109.20" r="1.1" fill="#1c3466"/>
<circle cx="213.20" cy="109.50" r="1.1" fill="#1c3466"/>
<circle cx="215.80" cy="109.20" r="1.1" fill="#1c3466"/>
<circle cx="218.30" cy="109.80" r="1.1" fill="#1c3466"/>
<circle cx="208.50" cy="111.80" r="1.1" fill="#1c3466"/>
<circle cx="211.00" cy="111.50" r="1.1" fill="#1c3466"/>
<circle cx="213.20" cy="112.00" r="1.1" fill="#1c3466"/>
<circle cx="215.50" cy="111.50" r="1.1" fill="#1c3466"/>
<circle cx="218.00" cy="111.80" r="1.1" fill="#1c3466"/>
<circle cx="210.20" cy="113.30" r="1.1" fill="#1c3466"/>
<circle cx="212.20" cy="113.80" r="1.1" fill="#1c3466"/>
<circle cx="214.20" cy="113.80" r="1.1" fill="#1c3466"/>
<circle cx="216.20" cy="113.30" r="1.1" fill="#1c3466"/>
<circle cx="213.20" cy="114.40" r="1.1" fill="#1c3466"/>
<circle cx="233.20" cy="56.00" r="1.1" fill="#8a1c2a"/>
<circle cx="233.10" cy="86.40" r="1.1" fill="#8a1c2a"/>
<circle cx="233.10" cy="90.60" r="1.1" fill="#8a1c2a"/>
<circle cx="229.80" cy="100.00" r="1.1" fill="#8a1c2a"/>
<circle cx="236.40" cy="99.80" r="1.1" fill="#8a1c2a"/>
<circle cx="233.10" cy="102.00" r="1.1" fill="#8a1c2a"/>
<circle cx="235.00" cy="103.90" r="1.1" fill="#8a1c2a"/>
<circle cx="228.30" cy="107.80" r="1.1" fill="#8a1c2a"/>
<circle cx="231.70" cy="106.10" r="1.1" fill="#8a1c2a"/>
<circle cx="238.30" cy="106.40" r="1.1" fill="#8a1c2a"/>
<circle cx="230.00" cy="109.40" r="1.1" fill="#8a1c2a"/>
<circle cx="233.30" cy="109.80" r="1.1" fill="#8a1c2a"/>
<circle cx="235.80" cy="109.10" r="1.1" fill="#8a1c2a"/>
<circle cx="228.30" cy="112.80" r="1.1" fill="#8a1c2a"/>
<circle cx="231.10" cy="113.30" r="1.1" fill="#8a1c2a"/>
<circle cx="238.30" cy="112.80" r="1.1" fill="#8a1c2a"/>
<circle cx="233.30" cy="115.00" r="1.1" fill="#8a1c2a"/>
<circle cx="235.80" cy="114.40" r="1.1" fill="#8a1c2a"/>
<circle cx="253.10" cy="66.10" r="1.1" fill="#3e2310"/>
<circle cx="249.40" cy="77.60" r="1.1" fill="#3e2310"/>
<circle cx="253.00" cy="78.30" r="1.1" fill="#3e2310"/>
<circle cx="256.30" cy="76.90" r="1.1" fill="#3e2310"/>
<circle cx="249.70" cy="80.90" r="1.1" fill="#3e2310"/>
<circle cx="253.20" cy="83.60" r="1.1" fill="#3e2310"/>
<circle cx="256.40" cy="82.90" r="1.1" fill="#3e2310"/>
<circle cx="253.20" cy="87.90" r="1.1" fill="#3e2310"/>
<circle cx="251.10" cy="92.90" r="1.1" fill="#3e2310"/>
<circle cx="254.90" cy="92.00" r="1.1" fill="#3e2310"/>
<circle cx="247.60" cy="102.10" r="1.1" fill="#3e2310"/>
<circle cx="251.30" cy="102.30" r="1.1" fill="#3e2310"/>
<circle cx="254.60" cy="102.30" r="1.1" fill="#3e2310"/>
<circle cx="258.00" cy="102.10" r="1.1" fill="#3e2310"/>
<circle cx="249.40" cy="105.00" r="1.1" fill="#3e2310"/>
<circle cx="256.20" cy="105.50" r="1.1" fill="#3e2310"/>
<circle cx="252.80" cy="107.00" r="1.1" fill="#3e2310"/>
<circle cx="247.30" cy="108.50" r="1.1" fill="#3e2310"/>
<circle cx="258.60" cy="109.10" r="1.1" fill="#3e2310"/>
<circle cx="249.10" cy="110.40" r="1.1" fill="#3e2310"/>
<circle cx="251.10" cy="111.20" r="1.1" fill="#3e2310"/>
<circle cx="253.30" cy="111.60" r="1.1" fill="#3e2310"/>
<circle cx="255.50" cy="111.20" r="1.1" fill="#3e2310"/>
<circle cx="257.60" cy="110.60" r="1.1" fill="#3e2310"/>
<circle cx="247.30" cy="112.20" r="1.1" fill="#3e2310"/>
<circle cx="249.20" cy="113.30" r="1.1" fill="#3e2310"/>
<circle cx="251.00" cy="114.00" r="1.1" fill="#3e2310"/>
<circle cx="252.80" cy="114.30" r="1.1" fill="#3e2310"/>
<circle cx="254.60" cy="114.00" r="1.1" fill="#3e2310"/>
<circle cx="256.50" cy="113.30" r="1.1" fill="#3e2310"/>
<circle cx="258.30" cy="112.40" r="1.1" fill="#3e2310"/>
<circle cx="272.70" cy="62.20" r="1.1" fill="#1c3466"/>
<circle cx="274.50" cy="83.75" r="1.1" fill="#1c3466"/>
<circle cx="271.40" cy="86.25" r="1.1" fill="#1c3466"/>
<circle cx="271.00" cy="90.00" r="1.1" fill="#1c3466"/>
<circle cx="274.50" cy="90.25" r="1.1" fill="#1c3466"/>
<circle cx="269.75" cy="99.40" r="1.1" fill="#1c3466"/>
<circle cx="273.00" cy="101.90" r="1.1" fill="#1c3466"/>
<circle cx="276.40" cy="101.50" r="1.1" fill="#1c3466"/>
<circle cx="267.00" cy="106.90" r="1.1" fill="#1c3466"/>
<circle cx="269.75" cy="107.75" r="1.1" fill="#1c3466"/>
<circle cx="272.00" cy="108.50" r="1.1" fill="#1c3466"/>
<circle cx="274.25" cy="109.00" r="1.1" fill="#1c3466"/>
<circle cx="276.75" cy="107.75" r="1.1" fill="#1c3466"/>
<circle cx="278.90" cy="107.10" r="1.1" fill="#1c3466"/>
<circle cx="273.00" cy="115.60" r="1.1" fill="#1c3466"/>
<circle cx="292.50" cy="54.75" r="1.1" fill="#8a1c2a"/>
<circle cx="292.50" cy="65.60" r="1.1" fill="#8a1c2a"/>
<circle cx="287.75" cy="67.25" r="1.1" fill="#8a1c2a"/>
<circle cx="291.00" cy="69.40" r="1.1" fill="#8a1c2a"/>
<circle cx="294.40" cy="69.40" r="1.1" fill="#8a1c2a"/>
<circle cx="297.75" cy="68.50" r="1.1" fill="#8a1c2a"/>
<circle cx="292.50" cy="78.75" r="1.1" fill="#8a1c2a"/>
<circle cx="287.75" cy="82.75" r="1.1" fill="#8a1c2a"/>
<circle cx="291.00" cy="84.75" r="1.1" fill="#8a1c2a"/>
<circle cx="294.40" cy="85.00" r="1.1" fill="#8a1c2a"/>
<circle cx="297.75" cy="84.40" r="1.1" fill="#8a1c2a"/>
<circle cx="293.00" cy="94.00" r="1.1" fill="#8a1c2a"/>
<circle cx="293.00" cy="104.00" r="1.1" fill="#8a1c2a"/>
<circle cx="289.50" cy="112.25" r="1.1" fill="#8a1c2a"/>
<circle cx="296.00" cy="112.75" r="1.1" fill="#8a1c2a"/>
<circle cx="292.60" cy="115.00" r="1.1" fill="#8a1c2a"/>
<circle cx="307.75" cy="58.50" r="1.1" fill="#3e2310"/>
<circle cx="311.00" cy="59.75" r="1.1" fill="#3e2310"/>
<circle cx="314.40" cy="61.00" r="1.1" fill="#3e2310"/>
<circle cx="317.50" cy="59.00" r="1.1" fill="#3e2310"/>
<circle cx="309.40" cy="61.90" r="1.1" fill="#3e2310"/>
<circle cx="312.75" cy="64.75" r="1.1" fill="#3e2310"/>
<circle cx="316.00" cy="64.00" r="1.1" fill="#3e2310"/>
<circle cx="311.00" cy="68.10" r="1.1" fill="#3e2310"/>
<circle cx="314.40" cy="68.50" r="1.1" fill="#3e2310"/>
<circle cx="312.75" cy="75.25" r="1.1" fill="#3e2310"/>
<circle cx="311.00" cy="87.25" r="1.1" fill="#3e2310"/>
<circle cx="314.40" cy="88.75" r="1.1" fill="#3e2310"/>
<circle cx="314.40" cy="95.00" r="1.1" fill="#3e2310"/>
<circle cx="311.00" cy="98.50" r="1.1" fill="#3e2310"/>
<circle cx="311.00" cy="110.25" r="1.1" fill="#3e2310"/>
<circle cx="314.40" cy="112.75" r="1.1" fill="#3e2310"/>
<circle cx="317.75" cy="114.00" r="1.1" fill="#3e2310"/>
<circle cx="307.50" cy="115.60" r="1.1" fill="#3e2310"/>
<circle cx="311.00" cy="116.50" r="1.1" fill="#3e2310"/>
<circle cx="314.40" cy="116.50" r="1.1" fill="#3e2310"/>
<text x="440.00" y="29.40" font-size="7.5" text-anchor="middle" font-weight="normal" fill="#111" textLength="48.4" lengthAdjust="spacingAndGlyphs">Spleen weight</text>
<rect x="367.00" y="37.30" width="1.00" height="23.20" fill="#1a1a1a"/>
<rect x="367.00" y="66.50" width="1.00" height="42.50" fill="#1a1a1a"/>
<rect x="365.30" y="66.30" width="2.50" height="0.90" fill="#1a1a1a"/>
<rect x="364.30" y="107.55" width="3.30" height="0.90" fill="#1a1a1a"/>
<text x="360.80" y="109.70" font-size="4.9" text-anchor="end" font-weight="normal" fill="#151515">0</text>
<rect x="364.30" y="95.95" width="3.30" height="0.90" fill="#1a1a1a"/>
<text x="360.80" y="98.10" font-size="4.9" text-anchor="end" font-weight="normal" fill="#151515">1</text>
<rect x="364.30" y="84.35" width="3.30" height="0.90" fill="#1a1a1a"/>
<text x="360.80" y="86.50" font-size="4.9" text-anchor="end" font-weight="normal" fill="#151515">2</text>
<rect x="364.30" y="72.75" width="3.30" height="0.90" fill="#1a1a1a"/>
<text x="360.80" y="74.90" font-size="4.9" text-anchor="end" font-weight="normal" fill="#151515">3</text>
<rect x="364.30" y="59.55" width="3.30" height="0.90" fill="#1a1a1a"/>
<text x="360.80" y="61.70" font-size="4.9" text-anchor="end" font-weight="normal" fill="#151515">4</text>
<rect x="364.30" y="49.80" width="3.30" height="0.90" fill="#1a1a1a"/>
<text x="360.80" y="51.95" font-size="4.9" text-anchor="end" font-weight="normal" fill="#151515">5</text>
<rect x="364.30" y="40.05" width="3.30" height="0.90" fill="#1a1a1a"/>
<text x="360.80" y="42.20" font-size="4.9" text-anchor="end" font-weight="normal" fill="#151515">6</text>
<text x="353.50" y="72.70" font-size="6.3" text-anchor="middle" font-weight="normal" fill="#151515" transform="rotate(-90 353.5 72.7)" textLength="46.4" lengthAdjust="spacingAndGlyphs">Spleen weight (g)</text>
<rect x="364.30" y="108.00" width="149.00" height="1.00" fill="#1a1a1a"/>
<rect x="375.05" y="108.50" width="0.90" height="2.80" fill="#1a1a1a"/>
<rect x="390.85" y="108.50" width="0.90" height="2.80" fill="#1a1a1a"/>
<rect x="407.25" y="108.50" width="0.90" height="2.80" fill="#1a1a1a"/>
<rect x="423.25" y="108.50" width="0.90" height="2.80" fill="#1a1a1a"/>
<rect x="439.25" y="108.50" width="0.90" height="2.80" fill="#1a1a1a"/>
<rect x="455.35" y="108.50" width="0.90" height="2.80" fill="#1a1a1a"/>
<rect x="471.75" y="108.50" width="0.90" height="2.80" fill="#1a1a1a"/>
<rect x="487.95" y="108.50" width="0.90" height="2.80" fill="#1a1a1a"/>
<rect x="504.05" y="108.50" width="0.90" height="2.80" fill="#1a1a1a"/>
<rect x="375.50" y="114.20" width="32.50" height="1.40" fill="#6a6a6a"/>
<rect x="424.20" y="114.20" width="31.60" height="1.40" fill="#6a6a6a"/>
<rect x="472.20" y="114.20" width="32.30" height="1.40" fill="#6a6a6a"/>
<text x="391.50" y="122.80" font-size="5.3" text-anchor="middle" font-weight="normal" fill="#151515" textLength="22.9" lengthAdjust="spacingAndGlyphs">6 months</text>
<text x="440.00" y="122.80" font-size="5.3" text-anchor="middle" font-weight="normal" fill="#151515" textLength="25.3" lengthAdjust="spacingAndGlyphs">10 months</text>
<text x="488.40" y="122.80" font-size="5.3" text-anchor="middle" font-weight="normal" fill="#151515" textLength="25.3" lengthAdjust="spacingAndGlyphs">10 months</text>
<polyline points="373.90,80.50 373.90,78.20 407.70,78.20 407.70,88.10" stroke="#444" stroke-width="0.9" fill="none"/>
<polyline points="373.90,88.10 373.90,86.90 392.60,86.90 392.60,88.10" stroke="#444" stroke-width="0.9" fill="none"/>
<text x="390.50" y="76.50" font-size="5.0" text-anchor="middle" font-weight="normal" fill="#222" font-style="italic">ns</text>
<text x="383.20" y="85.60" font-size="4.8" text-anchor="middle" font-weight="normal" fill="#222">*</text>
<polyline points="421.70,42.80 421.70,40.80 455.30,40.80 455.30,49.70" stroke="#444" stroke-width="0.9" fill="none"/>
<polyline points="421.70,52.80 421.70,50.80 440.00,50.80 440.00,52.60" stroke="#444" stroke-width="0.9" fill="none"/>
<text x="438.30" y="39.60" font-size="4.6" text-anchor="middle" font-weight="normal" fill="#222">*</text>
<text x="431.00" y="49.60" font-size="4.6" text-anchor="middle" font-weight="normal" fill="#222">***</text>
<line x1="419.10" y1="100.50" x2="429.00" y2="100.50" stroke="#1c2a50" stroke-width="1.0"/>
<line x1="386.40" y1="100.50" x2="396.30" y2="100.50" stroke="#333" stroke-width="0.8"/>
<line x1="435.00" y1="89.20" x2="445.00" y2="89.20" stroke="#888" stroke-width="0.9"/>
<line x1="451.10" y1="96.20" x2="459.90" y2="96.20" stroke="#888" stroke-width="0.9"/>
<circle cx="371.50" cy="106.80" r="1.15" fill="#1c3466"/>
<circle cx="373.50" cy="106.20" r="1.15" fill="#1c3466"/>
<circle cx="375.50" cy="106.80" r="1.15" fill="#1c3466"/>
<circle cx="377.50" cy="106.20" r="1.15" fill="#1c3466"/>
<circle cx="379.50" cy="106.80" r="1.15" fill="#1c3466"/>
<circle cx="372.50" cy="107.50" r="1.15" fill="#1c3466"/>
<circle cx="376.50" cy="107.50" r="1.15" fill="#1c3466"/>
<circle cx="378.80" cy="107.50" r="1.15" fill="#1c3466"/>
<circle cx="391.40" cy="92.10" r="1.25" fill="#8a1c2a"/>
<circle cx="387.90" cy="95.10" r="1.25" fill="#8a1c2a"/>
<circle cx="391.40" cy="95.90" r="1.25" fill="#8a1c2a"/>
<circle cx="395.10" cy="94.70" r="1.25" fill="#8a1c2a"/>
<circle cx="393.00" cy="98.60" r="1.25" fill="#8a1c2a"/>
<circle cx="387.20" cy="100.90" r="1.25" fill="#8a1c2a"/>
<circle cx="389.90" cy="100.50" r="1.25" fill="#8a1c2a"/>
<circle cx="392.60" cy="101.20" r="1.25" fill="#8a1c2a"/>
<circle cx="396.10" cy="100.90" r="1.25" fill="#8a1c2a"/>
<circle cx="393.00" cy="103.80" r="1.25" fill="#8a1c2a"/>
<circle cx="389.90" cy="107.30" r="1.25" fill="#8a1c2a"/>
<circle cx="393.40" cy="107.30" r="1.25" fill="#8a1c2a"/>
<circle cx="406.20" cy="101.20" r="1.25" fill="#3e2310"/>
<circle cx="409.70" cy="103.20" r="1.25" fill="#3e2310"/>
<circle cx="403.30" cy="104.40" r="1.25" fill="#3e2310"/>
<circle cx="404.40" cy="105.90" r="1.25" fill="#3e2310"/>
<circle cx="405.80" cy="106.90" r="1.25" fill="#3e2310"/>
<circle cx="407.40" cy="107.30" r="1.25" fill="#3e2310"/>
<circle cx="409.00" cy="107.00" r="1.25" fill="#3e2310"/>
<circle cx="410.80" cy="106.20" r="1.25" fill="#3e2310"/>
<circle cx="412.40" cy="105.00" r="1.25" fill="#3e2310"/>
<circle cx="423.70" cy="87.50" r="1.25" fill="#1c3466"/>
<circle cx="423.70" cy="92.70" r="1.25" fill="#1c3466"/>
<circle cx="419.90" cy="98.60" r="1.25" fill="#1c3466"/>
<circle cx="427.60" cy="98.00" r="1.25" fill="#1c3466"/>
<circle cx="422.00" cy="100.50" r="1.25" fill="#1c3466"/>
<circle cx="425.50" cy="100.50" r="1.25" fill="#1c3466"/>
<circle cx="419.70" cy="104.70" r="1.25" fill="#1c3466"/>
<circle cx="428.00" cy="104.00" r="1.25" fill="#1c3466"/>
<circle cx="422.20" cy="107.00" r="1.25" fill="#1c3466"/>
<circle cx="425.50" cy="107.00" r="1.25" fill="#1c3466"/>
<circle cx="440.00" cy="57.50" r="1.25" fill="#8a1c2a"/>
<circle cx="439.80" cy="72.60" r="1.25" fill="#8a1c2a"/>
<circle cx="438.10" cy="77.90" r="1.25" fill="#8a1c2a"/>
<circle cx="441.80" cy="78.70" r="1.25" fill="#8a1c2a"/>
<circle cx="439.80" cy="91.60" r="1.25" fill="#8a1c2a"/>
<circle cx="438.10" cy="97.40" r="1.25" fill="#8a1c2a"/>
<circle cx="441.80" cy="97.40" r="1.25" fill="#8a1c2a"/>
<circle cx="435.70" cy="103.80" r="1.25" fill="#8a1c2a"/>
<circle cx="438.90" cy="104.40" r="1.25" fill="#8a1c2a"/>
<circle cx="441.60" cy="103.80" r="1.25" fill="#8a1c2a"/>
<circle cx="444.10" cy="102.00" r="1.25" fill="#8a1c2a"/>
<circle cx="452.90" cy="88.10" r="1.25" fill="#3e2310"/>
<circle cx="456.00" cy="89.20" r="1.25" fill="#3e2310"/>
<circle cx="459.30" cy="86.90" r="1.25" fill="#3e2310"/>
<circle cx="452.50" cy="94.50" r="1.25" fill="#3e2310"/>
<circle cx="456.00" cy="95.40" r="1.25" fill="#3e2310"/>
<circle cx="459.30" cy="95.40" r="1.25" fill="#3e2310"/>
<circle cx="450.90" cy="98.20" r="1.25" fill="#3e2310"/>
<circle cx="461.40" cy="98.20" r="1.25" fill="#3e2310"/>
<circle cx="452.90" cy="101.20" r="1.25" fill="#3e2310"/>
<circle cx="456.00" cy="100.50" r="1.25" fill="#3e2310"/>
<circle cx="459.30" cy="100.90" r="1.25" fill="#3e2310"/>
<circle cx="456.00" cy="104.40" r="1.25" fill="#3e2310"/>
<path d="M469.50,105.50 L470.40,107.03 L468.60,107.03 Z" fill="none" stroke="#778" stroke-width="0.5"/>
<path d="M472.00,105.10 L472.90,106.63 L471.10,106.63 Z" fill="none" stroke="#778" stroke-width="0.5"/>
<path d="M474.50,105.50 L475.40,107.03 L473.60,107.03 Z" fill="none" stroke="#778" stroke-width="0.5"/>
<path d="M471.00,106.10 L471.90,107.63 L470.10,107.63 Z" fill="none" stroke="#778" stroke-width="0.5"/>
<path d="M473.50,106.10 L474.40,107.63 L472.60,107.63 Z" fill="none" stroke="#778" stroke-width="0.5"/>
<line x1="483.40" y1="102.30" x2="493.50" y2="102.30" stroke="#333" stroke-width="0.6"/>
<path d="M488.20,97.50 L489.00,98.86 L487.40,98.86 Z" fill="#2a3450" stroke="#2a3450" stroke-width="0.5"/>
<path d="M491.50,98.80 L492.30,100.16 L490.70,100.16 Z" fill="#2a3450" stroke="#2a3450" stroke-width="0.5"/>
<path d="M485.00,100.90 L485.80,102.26 L484.20,102.26 Z" fill="#2a3450" stroke="#2a3450" stroke-width="0.5"/>
<path d="M488.20,101.80 L489.00,103.16 L487.40,103.16 Z" fill="#2a3450" stroke="#2a3450" stroke-width="0.5"/>
<path d="M486.60,106.40 L487.40,107.76 L485.80,107.76 Z" fill="#2a3450" stroke="#2a3450" stroke-width="0.5"/>
<path d="M490.00,105.20 L490.80,106.56 L489.20,106.56 Z" fill="#2a3450" stroke="#2a3450" stroke-width="0.5"/>
<path d="M501.50,105.10 L502.40,106.63 L500.60,106.63 Z" fill="#445" stroke="#445" stroke-width="0.5"/>
<path d="M504.20,104.70 L505.10,106.23 L503.30,106.23 Z" fill="#445" stroke="#445" stroke-width="0.5"/>
<path d="M506.50,105.10 L507.40,106.63 L505.60,106.63 Z" fill="#445" stroke="#445" stroke-width="0.5"/>
<path d="M503.00,106.10 L503.90,107.63 L502.10,107.63 Z" fill="#445" stroke="#445" stroke-width="0.5"/>
<path d="M505.50,106.10 L506.40,107.63 L504.60,107.63 Z" fill="#445" stroke="#445" stroke-width="0.5"/>
<line x1="467.20" y1="106.30" x2="476.90" y2="106.30" stroke="#777" stroke-width="0.7"/>
<line x1="499.50" y1="106.30" x2="509.20" y2="106.30" stroke="#555" stroke-width="0.7"/>
<circle cx="471.80" cy="45.00" r="0.85" fill="#1c3466"/>
<text x="476.20" y="46.70" font-size="4.9" text-anchor="start" font-weight="normal" fill="#151515" textLength="7.0" lengthAdjust="spacingAndGlyphs">TCL1</text>
<circle cx="471.80" cy="51.00" r="0.85" fill="#8a1424"/>
<text x="476.20" y="52.70" font-size="4.9" text-anchor="start" font-weight="normal" fill="#151515" textLength="25.9" lengthAdjust="spacingAndGlyphs">TCL1/act-AID</text>
<circle cx="471.80" cy="57.00" r="0.85" fill="#6a1020"/>
<text x="476.20" y="58.70" font-size="4.9" text-anchor="start" font-weight="normal" fill="#151515" textLength="25.9" lengthAdjust="spacingAndGlyphs">TCL1/Igκ-AID</text>
<path d="M471.80,62.10 L472.70,63.63 L470.90,63.63 Z" fill="none" stroke="#888" stroke-width="0.5"/>
<text x="476.20" y="64.70" font-size="4.9" text-anchor="start" font-weight="normal" fill="#151515" textLength="17.0" lengthAdjust="spacingAndGlyphs">C57/BL6</text>
<rect x="471.20" y="68.40" width="1.20" height="1.20" fill="#4a5068"/>
<text x="476.20" y="70.70" font-size="4.9" text-anchor="start" font-weight="normal" fill="#151515" textLength="15.6" lengthAdjust="spacingAndGlyphs">Act-AID</text>
<rect x="471.20" y="74.40" width="1.20" height="1.20" fill="#4a5068"/>
<text x="476.20" y="76.70" font-size="4.9" text-anchor="start" font-weight="normal" fill="#151515" textLength="15.4" lengthAdjust="spacingAndGlyphs">Igκ-AID</text>
<rect x="401.90" y="131.50" width="77.50" height="43.30" fill="#b4a68a"/>
<text x="407.30" y="140.20" font-size="3.6" text-anchor="start" font-weight="normal" fill="#151515">10 months</text>
<text x="405.8" y="157.6" font-size="5.4" font-weight="bold" fill="#111">1 cm</text>
<line x1="419.20" y1="151.60" x2="419.20" y2="158.20" stroke="#111" stroke-width="0.6"/>
<path d="M428.6,144.2 C425.2,145.5 424.0,150 424.8,154 C425.6,157.5 428,159 430.2,158.2 C431,157.5 429.2,155.5 428.6,152.5 C428,149.5 429.5,147 430.4,145.8 C430.6,144.6 429.6,143.9 428.6,144.2 Z" fill="#151210"/>
<path d="M444.8,136.8 C442,137.5 441.3,142 441.6,147 C441.8,151.5 442,156.5 445,157.6 C448,158.2 448.6,155.5 447.8,152.5 C447,149.5 447,146 447.8,142.5 C448.4,139 447.2,136.2 444.8,136.8 Z" fill="#151210"/>
<path d="M464.8,138.6 C461.8,139.2 461.6,143 462.2,147 C462.8,151 462.2,155.5 464.8,157.4 C467.6,158.4 468.4,155 468.2,151 C468,147 468.6,143 467.6,140.2 C467,138.8 466,138.4 464.8,138.6 Z" fill="#151210"/>
<text x="427.50" y="167.10" font-size="3.7" text-anchor="middle" font-weight="normal" fill="#111">TCL1</text>
<text x="445.20" y="167.10" font-size="3.7" text-anchor="middle" font-weight="normal" fill="#111">TCL1/</text>
<text x="445.20" y="172.00" font-size="3.7" text-anchor="middle" font-weight="normal" fill="#111">Igκ-AID</text>
<text x="465.00" y="167.10" font-size="3.7" text-anchor="middle" font-weight="normal" fill="#111">TCL1/</text>
<text x="465.00" y="172.00" font-size="3.7" text-anchor="middle" font-weight="normal" fill="#111">act-AID</text>
<text x="111.00" y="230.50" font-size="7.5" text-anchor="middle" font-weight="normal" fill="#111" textLength="101" lengthAdjust="spacingAndGlyphs">Leukemic infiltration in spleen</text>
<rect x="30.00" y="244.00" width="1.10" height="53.90" fill="#1a1a1a"/>
<path d="M30.55,241.4 L28.9,245.0 L32.2,245.0 Z" fill="#1a1a1a"/>
<rect x="30.00" y="296.90" width="154.00" height="1.20" fill="#1a1a1a"/>
<path d="M187.6,297.5 L183.6,295.9 L183.6,299.1 Z" fill="#1a1a1a"/>
<text x="25.20" y="268.00" font-size="6.6" text-anchor="middle" font-weight="normal" fill="#111" transform="rotate(-90 25.2 268.0)" textLength="10.5" lengthAdjust="spacingAndGlyphs">IgM</text>
<text x="108.70" y="305.30" font-size="6.4" text-anchor="middle" font-weight="normal" fill="#111" textLength="10.7" lengthAdjust="spacingAndGlyphs">CD5</text>
<text x="57.50" y="243.20" font-size="5.3" text-anchor="middle" font-weight="normal" fill="#111" textLength="12.1" lengthAdjust="spacingAndGlyphs">TCL1</text>
<rect x="40.30" y="246.4" width="42.3" height="42.80" fill="none" stroke="#444" stroke-width="0.7"/>
<text x="38.60" y="248.00" font-size="3.7" text-anchor="end" font-weight="normal" fill="#333">10<tspan dy="-1.2" font-size="2.4">4</tspan></text>
<text x="38.60" y="258.50" font-size="3.7" text-anchor="end" font-weight="normal" fill="#333">10<tspan dy="-1.2" font-size="2.4">3</tspan></text>
<text x="38.60" y="269.00" font-size="3.7" text-anchor="end" font-weight="normal" fill="#333">10<tspan dy="-1.2" font-size="2.4">2</tspan></text>
<text x="38.60" y="279.50" font-size="3.7" text-anchor="end" font-weight="normal" fill="#333">10<tspan dy="-1.2" font-size="2.4">1</tspan></text>
<text x="38.60" y="290.00" font-size="3.7" text-anchor="end" font-weight="normal" fill="#333">10<tspan dy="-1.2" font-size="2.4">0</tspan></text>
<text x="41.90" y="295.20" font-size="3.7" text-anchor="middle" font-weight="normal" fill="#333">10<tspan dy="-1.2" font-size="2.4">0</tspan></text>
<text x="51.50" y="295.20" font-size="3.7" text-anchor="middle" font-weight="normal" fill="#333">10<tspan dy="-1.2" font-size="2.4">1</tspan></text>
<text x="61.90" y="295.20" font-size="3.7" text-anchor="middle" font-weight="normal" fill="#333">10<tspan dy="-1.2" font-size="2.4">2</tspan></text>
<text x="72.60" y="295.20" font-size="3.7" text-anchor="middle" font-weight="normal" fill="#333">10<tspan dy="-1.2" font-size="2.4">3</tspan></text>
<text x="82.90" y="295.20" font-size="3.7" text-anchor="middle" font-weight="normal" fill="#333">10<tspan dy="-1.2" font-size="2.4">4</tspan></text>
<rect x="56.5" y="254.3" width="16.30" height="18.0" fill="none" stroke="#444" stroke-width="0.7"/>
<text x="82.00" y="252.00" font-size="5.4" text-anchor="end" font-weight="normal" fill="#111" textLength="10.2" lengthAdjust="spacingAndGlyphs">59%</text>
<text x="111.20" y="243.20" font-size="5.3" text-anchor="middle" font-weight="normal" fill="#111" textLength="33.4" lengthAdjust="spacingAndGlyphs">TCL1/act-AID</text>
<rect x="94.20" y="246.4" width="42.3" height="42.80" fill="none" stroke="#444" stroke-width="0.7"/>
<text x="92.50" y="248.00" font-size="3.7" text-anchor="end" font-weight="normal" fill="#333">10<tspan dy="-1.2" font-size="2.4">4</tspan></text>
<text x="92.50" y="258.50" font-size="3.7" text-anchor="end" font-weight="normal" fill="#333">10<tspan dy="-1.2" font-size="2.4">3</tspan></text>
<text x="92.50" y="269.00" font-size="3.7" text-anchor="end" font-weight="normal" fill="#333">10<tspan dy="-1.2" font-size="2.4">2</tspan></text>
<text x="92.50" y="279.50" font-size="3.7" text-anchor="end" font-weight="normal" fill="#333">10<tspan dy="-1.2" font-size="2.4">1</tspan></text>
<text x="92.50" y="290.00" font-size="3.7" text-anchor="end" font-weight="normal" fill="#333">10<tspan dy="-1.2" font-size="2.4">0</tspan></text>
<text x="95.80" y="295.20" font-size="3.7" text-anchor="middle" font-weight="normal" fill="#333">10<tspan dy="-1.2" font-size="2.4">0</tspan></text>
<text x="105.40" y="295.20" font-size="3.7" text-anchor="middle" font-weight="normal" fill="#333">10<tspan dy="-1.2" font-size="2.4">1</tspan></text>
<text x="115.80" y="295.20" font-size="3.7" text-anchor="middle" font-weight="normal" fill="#333">10<tspan dy="-1.2" font-size="2.4">2</tspan></text>
<text x="126.50" y="295.20" font-size="3.7" text-anchor="middle" font-weight="normal" fill="#333">10<tspan dy="-1.2" font-size="2.4">3</tspan></text>
<text x="136.80" y="295.20" font-size="3.7" text-anchor="middle" font-weight="normal" fill="#333">10<tspan dy="-1.2" font-size="2.4">4</tspan></text>
<rect x="110.1" y="254.3" width="16.30" height="18.0" fill="none" stroke="#444" stroke-width="0.7"/>
<text x="135.90" y="252.00" font-size="5.4" text-anchor="end" font-weight="normal" fill="#111" textLength="10.2" lengthAdjust="spacingAndGlyphs">81%</text>
<text x="163.40" y="243.20" font-size="5.3" text-anchor="middle" font-weight="normal" fill="#111" textLength="33.4" lengthAdjust="spacingAndGlyphs">TCL1/Igκ-AID</text>
<rect x="145.50" y="246.4" width="42.3" height="42.80" fill="none" stroke="#444" stroke-width="0.7"/>
<text x="143.80" y="248.00" font-size="3.7" text-anchor="end" font-weight="normal" fill="#333">10<tspan dy="-1.2" font-size="2.4">4</tspan></text>
<text x="143.80" y="258.50" font-size="3.7" text-anchor="end" font-weight="normal" fill="#333">10<tspan dy="-1.2" font-size="2.4">3</tspan></text>
<text x="143.80" y="269.00" font-size="3.7" text-anchor="end" font-weight="normal" fill="#333">10<tspan dy="-1.2" font-size="2.4">2</tspan></text>
<text x="143.80" y="279.50" font-size="3.7" text-anchor="end" font-weight="normal" fill="#333">10<tspan dy="-1.2" font-size="2.4">1</tspan></text>
<text x="143.80" y="290.00" font-size="3.7" text-anchor="end" font-weight="normal" fill="#333">10<tspan dy="-1.2" font-size="2.4">0</tspan></text>
<text x="147.10" y="295.20" font-size="3.7" text-anchor="middle" font-weight="normal" fill="#333">10<tspan dy="-1.2" font-size="2.4">0</tspan></text>
<text x="156.70" y="295.20" font-size="3.7" text-anchor="middle" font-weight="normal" fill="#333">10<tspan dy="-1.2" font-size="2.4">1</tspan></text>
<text x="167.10" y="295.20" font-size="3.7" text-anchor="middle" font-weight="normal" fill="#333">10<tspan dy="-1.2" font-size="2.4">2</tspan></text>
<text x="177.80" y="295.20" font-size="3.7" text-anchor="middle" font-weight="normal" fill="#333">10<tspan dy="-1.2" font-size="2.4">3</tspan></text>
<text x="188.10" y="295.20" font-size="3.7" text-anchor="middle" font-weight="normal" fill="#333">10<tspan dy="-1.2" font-size="2.4">4</tspan></text>
<rect x="161.9" y="254.3" width="16.10" height="18.0" fill="none" stroke="#444" stroke-width="0.7"/>
<text x="187.20" y="252.00" font-size="5.4" text-anchor="end" font-weight="normal" fill="#111" textLength="10.2" lengthAdjust="spacingAndGlyphs">91%</text>
<clipPath id="cp40"><rect x="40.70" y="246.8" width="41.5" height="42.00"/></clipPath>
<clipPath id="cp94"><rect x="94.60" y="246.8" width="41.5" height="42.00"/></clipPath>
<clipPath id="cp145"><rect x="145.90" y="246.8" width="41.5" height="42.00"/></clipPath>
<g clip-path="url(#cp40)">
<radialGradient id="fg1"><stop offset="0.0" stop-color="#000" stop-opacity="0.55"/><stop offset="1" stop-color="#000" stop-opacity="0"/></radialGradient>
<ellipse cx="62" cy="260.5" rx="7.5" ry="7.5" fill="url(#fg1)" transform="rotate(0 62 260.5)"/>
<radialGradient id="fg2"><stop offset="0.2" stop-color="#000" stop-opacity="0.95"/><stop offset="1" stop-color="#000" stop-opacity="0"/></radialGradient>
<ellipse cx="62" cy="260.5" rx="4.2" ry="4.5" fill="url(#fg2)" transform="rotate(0 62 260.5)"/>
<radialGradient id="fg3"><stop offset="0.0" stop-color="#000" stop-opacity="0.5"/><stop offset="1" stop-color="#000" stop-opacity="0"/></radialGradient>
<ellipse cx="73" cy="279" rx="6.5" ry="6" fill="url(#fg3)" transform="rotate(0 73 279)"/>
<radialGradient id="fg4"><stop offset="0.2" stop-color="#000" stop-opacity="0.9"/><stop offset="1" stop-color="#000" stop-opacity="0"/></radialGradient>
<ellipse cx="73" cy="279" rx="3.2" ry="3" fill="url(#fg4)" transform="rotate(0 73 279)"/>
<radialGradient id="fg5"><stop offset="0.0" stop-color="#000" stop-opacity="0.5"/><stop offset="1" stop-color="#000" stop-opacity="0"/></radialGradient>
<ellipse cx="49.2" cy="278.4" rx="5.5" ry="5.5" fill="url(#fg5)" transform="rotate(0 49.2 278.4)"/>
<radialGradient id="fg6"><stop offset="0.0" stop-color="#000" stop-opacity="0.6"/><stop offset="1" stop-color="#000" stop-opacity="0"/></radialGradient>
<ellipse cx="49.2" cy="278.4" rx="2.5" ry="2.5" fill="url(#fg6)" transform="rotate(0 49.2 278.4)"/>
<radialGradient id="fg7"><stop offset="0.0" stop-color="#000" stop-opacity="0.3"/><stop offset="1" stop-color="#000" stop-opacity="0"/></radialGradient>
<ellipse cx="62" cy="284" rx="8" ry="4.5" fill="url(#fg7)" transform="rotate(0 62 284)"/>
<radialGradient id="fg8"><stop offset="0.0" stop-color="#000" stop-opacity="0.15"/><stop offset="1" stop-color="#000" stop-opacity="0"/></radialGradient>
<ellipse cx="48" cy="266" rx="7" ry="11" fill="url(#fg8)" transform="rotate(0 48 266)"/>
</g>
<path d="M57.5 256.1h.01M64.5 251.8h.01M61.5 251.9h.01M66.2 261.3h.01M67.2 258.6h.01M63.5 259.4h.01M59.2 261.1h.01M57.2 259.2h.01M64.6 260.7h.01M60.4 268.8h.01M62.2 258.3h.01M62.6 258.5h.01M60.5 259.2h.01M69.7 260.6h.01M62.7 263.1h.01M69.7 259.7h.01M59.6 269.9h.01M56.5 259.1h.01M64.5 269.2h.01M58.4 251.3h.01M64.5 258.5h.01M60.5 262.3h.01M62.8 261.6h.01M60.4 265.4h.01M67.7 260.6h.01M60.3 263.3h.01M63.8 256.5h.01M60.3 264.5h.01M61.6 259.3h.01M62.8 260.4h.01M62.0 253.2h.01M68.6 261.3h.01M58.7 264.2h.01M63.2 260.6h.01M66.0 269.1h.01M64.1 266.5h.01M70.2 256.6h.01M60.0 263.4h.01M55.5 259.5h.01M66.9 264.5h.01M64.2 253.3h.01M70.9 262.6h.01M64.9 262.4h.01M55.5 255.0h.01M57.4 267.8h.01M58.8 259.6h.01M61.0 262.7h.01M63.9 261.5h.01M57.2 248.6h.01M62.6 261.5h.01M66.7 260.1h.01M59.7 262.1h.01M56.1 256.5h.01M58.2 261.6h.01M69.9 263.4h.01M66.3 261.4h.01M63.1 258.8h.01M60.9 251.3h.01M57.4 255.6h.01M65.2 263.0h.01M66.3 266.4h.01M60.8 264.5h.01M69.4 260.5h.01M66.1 259.9h.01M55.9 261.0h.01M58.9 260.9h.01M60.2 261.7h.01M53.9 268.4h.01M67.2 259.2h.01M58.5 260.5h.01M64.6 262.1h.01M63.5 253.0h.01M57.7 265.6h.01M62.9 254.7h.01M58.7 255.0h.01M58.1 265.0h.01M61.2 264.8h.01M62.7 254.7h.01M59.5 269.3h.01M59.0 256.5h.01M66.8 260.8h.01M62.0 266.2h.01M55.2 262.1h.01M57.9 255.1h.01M58.8 265.0h.01M61.5 253.4h.01M57.7 266.4h.01M66.0 256.3h.01M71.4 259.1h.01M57.4 260.0h.01M65.6 266.8h.01M66.0 258.8h.01M59.8 254.8h.01M61.7 258.2h.01M63.0 255.6h.01M60.0 257.1h.01M57.3 255.9h.01M58.0 255.9h.01M64.2 260.9h.01M56.9 262.5h.01M63.1 266.2h.01M61.2 259.7h.01M59.3 261.0h.01M63.9 261.2h.01M61.0 262.7h.01M62.4 261.5h.01M58.4 261.3h.01M58.1 257.2h.01M62.6 268.7h.01M65.9 260.5h.01M61.3 264.3h.01M67.4 265.2h.01M61.3 261.2h.01M60.7 259.4h.01M58.7 259.5h.01M53.6 255.8h.01M63.7 256.9h.01M64.1 255.5h.01M60.6 262.0h.01M58.0 257.7h.01M71.6 257.9h.01M59.3 258.3h.01M62.1 260.4h.01M65.8 263.6h.01M60.4 259.1h.01M56.5 254.7h.01M59.1 263.3h.01M62.5 263.6h.01M65.7 259.9h.01M70.2 258.5h.01M59.6 258.8h.01M66.4 260.0h.01M59.1 262.2h.01M66.4 260.1h.01M61.0 264.7h.01M65.8 264.2h.01M59.0 261.6h.01M63.4 253.5h.01M66.7 260.9h.01M60.7 269.3h.01M62.6 257.7h.01M61.8 262.7h.01M65.2 260.3h.01M58.6 257.8h.01M58.8 256.4h.01M61.9 258.6h.01M62.2 257.3h.01M58.6 259.8h.01M60.6 265.0h.01M58.5 261.3h.01M61.8 255.4h.01M64.8 261.2h.01M53.9 262.8h.01M65.6 257.4h.01M68.6 261.1h.01M57.5 262.7h.01M60.6 255.3h.01M53.7 261.5h.01M59.1 263.0h.01M63.5 258.5h.01M71.1 284.8h.01M79.1 281.5h.01M71.7 275.8h.01M71.6 284.4h.01M74.6 278.1h.01M68.6 279.5h.01M69.9 279.0h.01M75.6 282.5h.01M73.5 277.9h.01M73.8 284.9h.01M74.3 274.4h.01M78.5 279.8h.01M72.7 278.0h.01M74.3 277.1h.01M67.7 272.7h.01M72.6 277.3h.01M70.9 285.9h.01M75.8 282.6h.01M71.2 280.0h.01M72.2 278.3h.01M75.7 281.0h.01M74.1 279.5h.01M67.9 276.6h.01M74.4 277.8h.01M70.2 280.2h.01M69.7 276.8h.01M76.1 277.8h.01M78.1 280.7h.01M75.9 282.7h.01M65.3 278.7h.01M68.4 277.5h.01M72.6 283.0h.01M72.8 284.3h.01M71.1 278.8h.01M73.3 282.1h.01M72.8 277.0h.01M71.8 274.5h.01M77.5 281.4h.01M74.5 279.9h.01M70.9 277.7h.01M75.9 276.4h.01M70.2 284.1h.01M78.5 279.9h.01M74.9 279.6h.01M78.1 277.6h.01M73.3 280.6h.01M78.1 278.2h.01M73.8 277.4h.01M70.7 276.9h.01M73.3 281.9h.01M70.6 277.1h.01M71.6 280.1h.01M75.5 275.0h.01M74.3 275.8h.01M75.5 275.9h.01M69.2 276.7h.01M72.8 275.8h.01M73.7 279.5h.01M73.3 279.9h.01M76.1 276.7h.01M73.0 278.9h.01M65.8 280.3h.01M70.3 276.7h.01M71.4 279.3h.01M74.2 280.6h.01M70.6 281.2h.01M74.5 277.7h.01M72.9 281.6h.01M74.5 281.2h.01M73.4 282.7h.01M80.8 280.5h.01M67.4 284.5h.01M71.0 274.6h.01M64.7 280.4h.01M76.8 282.2h.01M71.7 283.6h.01M72.7 277.1h.01M73.2 279.7h.01M73.2 280.3h.01M65.3 284.0h.01M71.0 281.1h.01M70.2 279.5h.01M72.4 273.9h.01M74.3 281.0h.01M69.1 272.3h.01M70.7 276.3h.01M73.4 278.9h.01M78.6 281.1h.01M72.1 279.5h.01M62.9 276.1h.01M69.8 278.6h.01M74.1 279.7h.01M76.3 276.8h.01M74.1 278.6h.01M73.0 280.0h.01M72.0 279.7h.01M72.9 282.3h.01M72.6 280.0h.01M82.1 281.0h.01M74.8 282.4h.01M69.5 281.3h.01M75.6 280.4h.01M76.4 281.5h.01M77.2 276.9h.01M74.5 277.3h.01M77.3 279.4h.01M68.5 279.4h.01M69.5 282.1h.01M71.8 272.0h.01M71.6 282.3h.01M74.2 277.0h.01M75.3 280.8h.01M78.1 281.9h.01M74.3 276.5h.01M74.0 280.0h.01M73.0 280.3h.01M68.9 280.8h.01M73.0 280.1h.01M72.7 278.0h.01M73.9 281.5h.01M71.9 280.0h.01M70.3 280.3h.01M73.1 274.9h.01M77.1 276.2h.01M73.3 274.8h.01M67.0 281.1h.01M68.1 272.4h.01M72.3 274.1h.01M72.3 284.8h.01M47.8 279.6h.01M51.2 279.3h.01M48.8 283.6h.01M48.9 279.6h.01M49.6 273.9h.01M50.3 278.6h.01M51.5 280.8h.01M54.6 271.8h.01M47.3 276.8h.01M46.2 279.8h.01M48.9 278.9h.01M43.5 275.1h.01M49.0 276.9h.01M47.1 278.0h.01M48.2 274.7h.01M55.0 276.1h.01M51.5 280.5h.01M52.5 276.4h.01M45.7 279.9h.01M50.1 270.2h.01M47.9 277.5h.01M50.6 275.0h.01M58.4 281.5h.01M53.7 279.3h.01M42.0 279.2h.01M47.3 279.9h.01M48.8 280.7h.01M46.2 277.1h.01M49.2 275.8h.01M47.6 280.5h.01M55.9 277.7h.01M52.1 274.5h.01M47.6 279.5h.01M51.2 274.9h.01M51.3 278.9h.01M53.7 281.6h.01M51.1 277.0h.01M50.1 275.4h.01M46.3 272.0h.01M44.7 274.0h.01M48.8 278.7h.01M44.6 278.1h.01M50.6 281.6h.01M48.9 279.1h.01M47.9 281.6h.01M43.8 279.2h.01M41.2 284.3h.01M52.4 271.1h.01M47.4 273.5h.01M43.1 277.0h.01M46.1 282.0h.01M47.4 274.6h.01M48.9 279.8h.01M52.0 280.1h.01M44.0 275.5h.01M48.5 275.5h.01M51.7 277.2h.01M48.9 277.1h.01M49.3 273.2h.01M56.4 276.4h.01M46.7 272.2h.01M48.9 273.6h.01M50.3 282.5h.01M51.3 276.8h.01M53.5 277.7h.01M49.0 278.6h.01M47.5 279.8h.01M44.9 272.2h.01M53.3 275.8h.01M47.9 279.5h.01M47.5 274.3h.01M48.5 275.1h.01M51.0 276.8h.01M48.3 281.0h.01M43.8 273.2h.01M51.7 282.7h.01M49.5 275.9h.01M53.4 280.1h.01M52.7 272.1h.01M48.7 274.8h.01M45.4 280.3h.01M51.7 276.7h.01M48.3 283.1h.01M51.4 277.9h.01M50.9 278.7h.01M44.8 276.6h.01M50.1 280.5h.01M45.0 275.6h.01M47.1 273.1h.01M68.4 285.3h.01M69.6 277.5h.01M53.6 278.6h.01M63.2 288.6h.01M65.7 281.1h.01M65.2 285.2h.01M63.5 285.1h.01M66.8 287.4h.01M70.0 287.1h.01M61.0 278.5h.01M65.1 279.5h.01M75.4 280.5h.01M51.0 278.5h.01M64.2 284.8h.01M65.7 284.8h.01M57.3 286.4h.01M57.8 279.5h.01M67.3 285.5h.01M56.4 283.2h.01M68.0 286.7h.01M55.6 287.2h.01M46.6 284.2h.01M64.2 283.6h.01M62.6 279.2h.01M61.1 285.4h.01M56.4 284.4h.01M60.9 277.3h.01M58.3 285.7h.01M52.7 284.0h.01M63.9 280.2h.01M60.5 286.6h.01M66.2 281.0h.01M68.0 285.0h.01M62.7 288.4h.01M66.3 285.1h.01M67.6 285.9h.01M69.5 283.6h.01M51.4 288.6h.01M66.7 285.5h.01M62.2 283.7h.01M62.6 281.2h.01M66.5 284.2h.01M56.3 284.8h.01M60.0 283.9h.01M55.7 285.2h.01M66.2 285.2h.01M70.8 282.7h.01M60.0 284.0h.01M53.9 287.3h.01M54.6 285.6h.01M69.1 281.5h.01M60.9 283.4h.01M72.2 284.8h.01M51.6 287.2h.01M68.1 278.1h.01M62.5 277.7h.01M68.2 288.2h.01M47.8 287.8h.01M66.2 283.9h.01M57.8 285.1h.01M57.2 284.5h.01M60.5 282.7h.01M65.2 286.9h.01M67.3 285.3h.01M72.0 280.2h.01M62.4 284.5h.01M69.2 277.3h.01M59.4 283.1h.01M63.4 283.7h.01M64.5 286.9h.01M54.8 287.7h.01M66.2 287.0h.01M71.2 283.3h.01M64.5 284.8h.01M58.4 281.7h.01M57.4 286.5h.01M48.4 280.2h.01M62.4 287.9h.01M61.4 287.8h.01M61.6 282.4h.01M52.7 284.6h.01M72.3 284.3h.01M55.8 285.7h.01M53.8 280.6h.01M68.6 285.2h.01M55.8 268.1h.01M49.3 267.5h.01M48.1 275.4h.01M42.3 249.1h.01M44.9 274.0h.01M67.0 257.7h.01M48.8 271.1h.01M52.2 264.5h.01M44.1 264.4h.01M54.5 262.5h.01M53.6 272.4h.01M42.3 266.4h.01M51.7 275.5h.01M52.4 267.4h.01M48.2 270.2h.01M54.6 264.6h.01M48.3 281.5h.01M49.7 259.0h.01M54.0 254.9h.01M43.5 274.2h.01M50.1 273.0h.01M54.6 259.2h.01M53.0 262.6h.01M51.3 268.2h.01M49.5 254.5h.01M51.8 266.2h.01M53.1 256.6h.01M51.2 264.1h.01M47.5 263.6h.01M48.5 253.8h.01M46.8 261.9h.01M52.8 264.6h.01M58.4 271.4h.01M51.9 267.8h.01M41.6 269.2h.01M57.5 257.0h.01M57.8 271.5h.01M51.7 262.2h.01M50.1 259.0h.01M49.9 266.5h.01M50.4 255.2h.01M55.5 260.2h.01M52.3 271.2h.01M48.8 287.7h.01M50.7 269.7h.01M48.5 268.9h.01M42.5 271.7h.01M47.8 261.5h.01M54.5 274.0h.01M47.5 257.0h.01M52.9 271.6h.01M42.6 266.4h.01M56.2 259.3h.01M46.7 258.0h.01M52.4 249.3h.01M49.2 270.1h.01M49.7 274.5h.01M53.6 261.5h.01M44.1 256.6h.01M52.9 264.8h.01M50.7 257.9h.01M56.8 273.7h.01M54.4 256.1h.01M65.3 273.4h.01M43.6 274.5h.01M49.2 259.1h.01M45.5 270.4h.01M51.8 267.9h.01M48.7 256.9h.01M51.5 263.6h.01M48.8 271.4h.01M59.9 260.5h.01M55.7 259.5h.01M54.9 271.7h.01M50.2 268.1h.01M45.4 263.0h.01M45.4 268.5h.01M79.3 286.7h.01M60.1 251.3h.01M72.5 251.8h.01M63.0 250.5h.01M81.5 269.8h.01M58.9 258.4h.01M63.6 287.9h.01M58.5 255.8h.01M62.1 285.6h.01M56.7 273.6h.01M78.7 260.7h.01M74.2 269.2h.01M46.7 249.3h.01M79.5 266.6h.01M59.2 285.5h.01M64.5 268.0h.01M52.6 278.3h.01M51.5 266.8h.01M72.1 272.4h.01M46.5 255.5h.01M69.5 277.6h.01M45.2 288.9h.01M46.5 254.0h.01M44.7 265.7h.01M66.4 283.0h.01M47.7 276.3h.01M45.3 271.4h.01M51.3 262.0h.01M43.2 277.3h.01M46.0 279.1h.01M54.8 271.9h.01M67.2 267.5h.01M76.8 285.6h.01M52.6 261.0h.01M77.0 252.6h.01M58.2 264.4h.01M81.0 252.4h.01M67.9 278.8h.01M70.9 247.0h.01M79.7 260.1h.01M76.0 274.8h.01M58.3 282.2h.01M68.7 261.3h.01M71.0 268.2h.01M70.2 272.8h.01M73.6 253.7h.01M61.3 247.1h.01M73.4 279.4h.01M75.3 248.8h.01M62.9 267.1h.01M45.9 255.5h.01M80.9 282.8h.01M50.8 281.8h.01M67.7 263.2h.01M67.4 256.6h.01M52.2 247.4h.01M67.9 271.4h.01M71.5 268.2h.01M58.8 259.9h.01" stroke="#000" stroke-width="0.55" stroke-linecap="round" opacity="0.55"/>
<g clip-path="url(#cp94)">
<radialGradient id="fg9"><stop offset="0.0" stop-color="#000" stop-opacity="0.55"/><stop offset="1" stop-color="#000" stop-opacity="0"/></radialGradient>
<ellipse cx="115.5" cy="262.5" rx="9.5" ry="7" fill="url(#fg9)" transform="rotate(-12 115.5 262.5)"/>
<radialGradient id="fg10"><stop offset="0.3" stop-color="#000" stop-opacity="1.0"/><stop offset="1" stop-color="#000" stop-opacity="0"/></radialGradient>
<ellipse cx="115.5" cy="262.5" rx="6.2" ry="4.6" fill="url(#fg10)" transform="rotate(-12 115.5 262.5)"/>
<radialGradient id="fg11"><stop offset="0.0" stop-color="#000" stop-opacity="0.4"/><stop offset="1" stop-color="#000" stop-opacity="0"/></radialGradient>
<ellipse cx="124.6" cy="278.6" rx="7" ry="6" fill="url(#fg11)" transform="rotate(0 124.6 278.6)"/>
<radialGradient id="fg12"><stop offset="0.0" stop-color="#000" stop-opacity="0.38"/><stop offset="1" stop-color="#000" stop-opacity="0"/></radialGradient>
<ellipse cx="100.7" cy="279" rx="6.5" ry="6" fill="url(#fg12)" transform="rotate(0 100.7 279)"/>
<radialGradient id="fg13"><stop offset="0.0" stop-color="#000" stop-opacity="0.3"/><stop offset="1" stop-color="#000" stop-opacity="0"/></radialGradient>
<ellipse cx="112" cy="283" rx="9" ry="5" fill="url(#fg13)" transform="rotate(0 112 283)"/>
<radialGradient id="fg14"><stop offset="0.0" stop-color="#000" stop-opacity="0.2"/><stop offset="1" stop-color="#000" stop-opacity="0"/></radialGradient>
<ellipse cx="104" cy="268" rx="6" ry="6" fill="url(#fg14)" transform="rotate(0 104 268)"/>
</g>
<path d="M115.1 259.0h.01M108.6 259.0h.01M108.3 264.4h.01M119.1 263.6h.01M117.0 260.8h.01M116.3 262.7h.01M115.7 260.8h.01M110.3 263.5h.01M117.4 258.6h.01M114.4 262.4h.01M117.9 256.6h.01M108.7 257.7h.01M109.5 258.7h.01M119.6 258.5h.01M125.8 263.5h.01M118.8 262.3h.01M119.7 263.8h.01M119.4 264.5h.01M118.5 263.8h.01M120.8 262.6h.01M113.0 268.0h.01M113.2 263.9h.01M125.7 260.3h.01M114.2 260.2h.01M111.0 264.8h.01M114.5 263.0h.01M107.3 264.2h.01M112.0 255.8h.01M112.0 256.9h.01M123.2 256.7h.01M116.9 258.9h.01M111.6 258.1h.01M121.4 258.7h.01M112.5 263.3h.01M113.7 264.9h.01M111.9 256.9h.01M117.7 266.7h.01M118.1 259.6h.01M121.1 265.3h.01M113.7 264.0h.01M115.4 262.9h.01M118.6 265.5h.01M115.9 262.7h.01M103.5 259.7h.01M117.7 259.7h.01M117.3 261.8h.01M115.8 262.8h.01M121.8 264.3h.01M115.7 258.4h.01M117.3 258.8h.01M121.5 260.1h.01M112.5 262.0h.01M110.7 264.2h.01M117.1 260.2h.01M112.9 268.9h.01M121.1 264.4h.01M116.9 267.7h.01M113.7 261.6h.01M114.9 258.8h.01M111.3 268.9h.01M116.3 259.5h.01M114.4 260.8h.01M113.4 262.3h.01M108.4 256.3h.01M114.6 261.7h.01M109.9 262.2h.01M112.8 263.2h.01M114.5 266.4h.01M122.3 264.8h.01M115.7 265.5h.01M119.1 264.2h.01M119.3 261.2h.01M119.3 264.4h.01M117.5 262.0h.01M113.6 264.6h.01M113.2 258.9h.01M123.6 266.7h.01M111.9 267.3h.01M105.8 264.6h.01M118.9 263.4h.01M114.6 265.3h.01M118.1 258.7h.01M112.1 266.0h.01M119.2 258.6h.01M108.5 264.1h.01M111.7 260.1h.01M113.1 263.4h.01M106.0 265.3h.01M113.9 265.7h.01M110.2 259.6h.01M118.0 266.0h.01M115.4 261.5h.01M122.0 266.3h.01M117.0 261.7h.01M121.6 265.0h.01M113.9 267.6h.01M120.9 263.3h.01M117.9 265.2h.01M113.4 258.5h.01M121.3 257.0h.01M108.4 257.7h.01M118.0 266.2h.01M112.5 267.1h.01M123.5 267.3h.01M109.5 267.1h.01M126.6 259.5h.01M107.9 267.0h.01M118.1 262.5h.01M115.4 256.7h.01M111.6 263.3h.01M117.9 265.8h.01M120.1 261.0h.01M115.3 267.5h.01M109.1 264.4h.01M111.6 263.3h.01M124.5 264.0h.01M113.5 260.2h.01M108.9 262.5h.01M104.8 262.3h.01M116.3 259.5h.01M111.9 266.7h.01M121.6 269.7h.01M121.1 263.7h.01M114.6 266.9h.01M118.9 263.2h.01M124.3 262.1h.01M116.5 266.4h.01M118.0 262.9h.01M120.6 272.2h.01M114.1 265.0h.01M117.7 263.2h.01M123.7 262.3h.01M123.8 259.2h.01M116.3 259.8h.01M117.4 265.0h.01M118.3 263.4h.01M114.4 258.4h.01M119.8 262.7h.01M121.2 256.8h.01M114.5 256.7h.01M120.9 260.1h.01M110.7 265.6h.01M115.2 263.5h.01M115.2 266.5h.01M117.0 263.5h.01M115.6 265.9h.01M121.1 261.4h.01M119.8 257.4h.01M111.8 260.8h.01M112.1 264.5h.01M109.0 257.2h.01M116.6 259.6h.01M115.9 262.9h.01M112.4 261.2h.01M119.7 262.6h.01M116.0 264.9h.01M112.1 258.4h.01M113.9 268.2h.01M118.5 270.3h.01M120.4 265.8h.01M113.2 256.9h.01M105.4 263.1h.01M110.2 258.5h.01M118.3 263.6h.01M109.4 263.5h.01M122.3 265.8h.01M112.3 265.9h.01M106.0 261.6h.01M113.4 266.9h.01M109.7 259.3h.01M114.0 265.2h.01M108.8 263.4h.01M113.9 261.0h.01M109.5 264.0h.01M116.3 264.1h.01M116.4 262.2h.01M111.3 262.5h.01M119.4 263.1h.01M118.2 265.6h.01M117.2 261.7h.01M110.9 267.0h.01M114.8 262.0h.01M116.0 265.4h.01M119.8 260.1h.01M115.2 266.6h.01M112.7 262.7h.01M111.5 257.5h.01M109.4 263.1h.01M117.1 253.6h.01M114.4 261.8h.01M108.1 262.3h.01M111.8 267.3h.01M110.8 266.2h.01M109.9 259.0h.01M122.5 260.0h.01M113.5 257.1h.01M116.3 267.4h.01M114.2 261.6h.01M115.6 259.9h.01M109.4 262.7h.01M123.4 273.2h.01M115.3 280.1h.01M119.8 280.1h.01M128.1 278.4h.01M122.4 270.8h.01M130.6 281.4h.01M121.7 275.3h.01M126.6 272.4h.01M127.4 281.5h.01M120.0 275.3h.01M131.6 277.1h.01M125.3 277.6h.01M116.7 281.8h.01M130.9 276.8h.01M121.2 283.3h.01M118.8 277.7h.01M119.4 273.7h.01M122.2 270.3h.01M119.9 278.8h.01M121.8 275.2h.01M134.2 281.1h.01M122.6 282.0h.01M127.1 279.1h.01M127.5 277.5h.01M122.4 284.2h.01M124.9 283.3h.01M116.9 275.8h.01M121.1 279.0h.01M124.4 281.6h.01M126.6 278.6h.01M126.7 280.8h.01M125.7 271.0h.01M122.8 280.5h.01M123.1 282.9h.01M122.6 278.8h.01M121.5 278.2h.01M128.9 283.0h.01M128.0 280.7h.01M125.1 274.6h.01M127.0 276.6h.01M125.7 278.3h.01M127.9 276.5h.01M127.7 278.6h.01M130.9 278.2h.01M124.0 272.8h.01M128.0 278.7h.01M116.0 280.1h.01M126.5 277.6h.01M129.7 278.3h.01M124.0 279.9h.01M120.3 280.3h.01M121.3 279.4h.01M128.9 277.4h.01M122.1 283.8h.01M124.8 282.0h.01M126.9 280.0h.01M130.2 278.5h.01M118.7 277.9h.01M122.3 275.2h.01M123.1 279.9h.01M126.6 278.9h.01M124.1 278.9h.01M122.9 276.0h.01M125.0 281.4h.01M121.9 278.7h.01M127.4 275.7h.01M126.1 279.2h.01M128.7 275.9h.01M123.0 283.5h.01M132.6 280.5h.01M130.0 276.8h.01M128.6 279.7h.01M127.4 274.9h.01M125.3 280.9h.01M129.1 280.1h.01M126.4 281.8h.01M131.4 274.4h.01M117.6 278.9h.01M131.1 284.4h.01M127.6 275.9h.01M127.1 276.8h.01M128.1 278.3h.01M131.4 275.8h.01M130.5 276.5h.01M127.5 279.8h.01M119.7 272.8h.01M124.1 277.8h.01M122.5 281.0h.01M126.0 280.6h.01M120.8 278.3h.01M124.2 281.9h.01M129.7 277.2h.01M124.7 271.2h.01M132.7 279.9h.01M126.8 279.8h.01M124.2 273.3h.01M121.2 276.2h.01M123.9 275.3h.01M125.6 280.7h.01M125.4 279.2h.01M134.0 276.3h.01M122.2 281.3h.01M123.3 284.1h.01M122.2 278.7h.01M131.5 273.7h.01M128.8 279.6h.01M125.6 283.1h.01M122.5 280.7h.01M122.8 282.7h.01M120.0 278.5h.01M98.8 275.4h.01M104.8 277.8h.01M103.1 271.2h.01M96.8 275.8h.01M102.3 273.6h.01M102.1 282.4h.01M101.2 279.6h.01M99.3 276.1h.01M100.7 279.8h.01M106.6 279.7h.01M98.0 281.9h.01M96.8 272.2h.01M99.8 276.7h.01M103.2 278.8h.01M95.7 276.6h.01M98.7 286.1h.01M95.9 275.5h.01M105.6 284.1h.01M99.4 283.7h.01M100.4 275.9h.01M100.4 282.1h.01M106.5 278.3h.01M95.6 279.8h.01M99.0 276.7h.01M102.4 279.8h.01M96.0 276.7h.01M106.2 278.3h.01M107.8 270.8h.01M96.5 279.1h.01M96.9 279.6h.01M101.0 274.4h.01M107.9 285.1h.01M95.6 277.6h.01M98.9 278.2h.01M105.1 283.2h.01M99.5 280.5h.01M103.4 273.7h.01M101.0 275.5h.01M105.3 283.4h.01M102.0 284.1h.01M99.6 276.4h.01M106.0 279.1h.01M102.0 274.5h.01M103.6 278.8h.01M100.2 275.3h.01M97.7 277.6h.01M101.3 283.4h.01M97.0 276.5h.01M97.4 275.0h.01M98.1 280.5h.01M99.1 275.8h.01M103.1 279.5h.01M96.8 283.1h.01M98.1 275.6h.01M102.1 276.2h.01M96.7 283.7h.01M98.9 275.7h.01M101.4 278.5h.01M102.6 277.4h.01M102.4 275.0h.01M104.0 277.8h.01M97.8 274.7h.01M104.3 278.8h.01M99.1 280.2h.01M100.1 277.8h.01M102.0 277.4h.01M104.3 287.0h.01M99.0 281.2h.01M103.8 286.1h.01M105.2 275.5h.01M100.1 284.6h.01M105.1 276.4h.01M101.7 283.7h.01M105.8 277.7h.01M102.3 280.9h.01M99.8 278.2h.01M104.6 279.0h.01M100.5 283.1h.01M105.3 281.0h.01M99.1 276.3h.01M96.4 276.9h.01M102.0 274.6h.01M97.4 275.6h.01M101.5 277.6h.01M106.7 283.6h.01M101.0 278.6h.01M105.0 276.0h.01M104.5 274.7h.01M99.3 280.2h.01M101.3 273.5h.01M97.6 279.5h.01M98.0 279.6h.01M111.7 278.2h.01M101.9 281.1h.01M111.2 280.1h.01M103.0 283.7h.01M110.8 287.0h.01M113.2 285.0h.01M105.9 282.1h.01M114.6 282.0h.01M116.0 281.8h.01M110.4 284.2h.01M104.6 287.3h.01M121.2 282.3h.01M114.6 285.9h.01M114.3 285.0h.01M110.2 284.6h.01M108.9 279.7h.01M110.8 285.2h.01M113.9 284.2h.01M109.8 283.4h.01M107.4 282.7h.01M112.7 280.7h.01M120.9 277.3h.01M115.9 282.1h.01M118.1 281.5h.01M117.0 280.8h.01M107.5 282.4h.01M112.3 280.1h.01M119.0 279.9h.01M110.6 283.3h.01M111.3 286.1h.01M106.6 285.9h.01M118.7 283.1h.01M123.6 278.4h.01M108.6 278.8h.01M113.7 279.8h.01M97.8 283.2h.01M104.3 281.7h.01M108.9 287.1h.01M97.7 283.5h.01M132.0 283.0h.01M113.7 282.7h.01M116.9 284.2h.01M115.6 279.6h.01M111.9 284.4h.01M112.0 284.6h.01M118.1 286.9h.01M113.3 284.7h.01M109.7 281.9h.01M116.3 279.2h.01M118.9 279.6h.01M111.4 280.7h.01M106.8 284.4h.01M101.7 287.2h.01M102.1 285.1h.01M110.3 282.1h.01M113.9 286.8h.01M113.1 280.9h.01M112.0 285.9h.01M105.9 283.8h.01M119.3 281.1h.01M111.0 285.7h.01M108.5 282.9h.01M110.3 283.7h.01M105.3 278.0h.01M118.5 280.6h.01M106.2 285.5h.01M108.5 282.4h.01M105.2 282.1h.01M114.1 286.1h.01M116.4 279.3h.01M109.9 284.9h.01M106.8 280.2h.01M110.0 286.2h.01M105.0 285.3h.01M116.2 281.0h.01M104.5 282.1h.01M109.8 281.1h.01M117.5 286.6h.01M111.6 286.5h.01M101.5 271.6h.01M110.6 285.7h.01M107.7 270.9h.01M104.7 263.3h.01M107.9 281.4h.01M108.4 269.4h.01M103.7 263.2h.01M111.7 269.9h.01M110.8 263.7h.01M108.7 275.6h.01M104.2 266.1h.01M118.0 281.3h.01M111.4 265.3h.01M112.2 274.2h.01M113.7 269.1h.01M103.8 262.6h.01M97.3 258.2h.01M103.0 270.0h.01M112.5 283.7h.01M102.1 254.1h.01M106.4 272.6h.01M102.8 263.2h.01M101.5 271.2h.01M105.7 257.8h.01M104.2 262.7h.01M100.0 270.4h.01M100.7 271.3h.01M105.9 266.4h.01M100.6 258.6h.01M99.1 282.1h.01M106.8 269.0h.01M101.5 265.1h.01M98.8 271.8h.01M109.5 262.4h.01M107.9 266.6h.01M106.4 263.3h.01M108.7 281.5h.01M101.8 267.7h.01M109.6 264.9h.01M98.3 251.9h.01M102.1 277.8h.01M101.1 268.4h.01M103.7 264.8h.01M102.2 261.2h.01M99.9 277.7h.01M98.8 278.6h.01M97.9 278.5h.01M104.1 274.1h.01M103.8 273.2h.01M116.7 253.7h.01M101.8 272.6h.01M112.2 260.8h.01M105.2 276.0h.01M102.3 270.1h.01M106.2 276.8h.01M107.0 272.7h.01M101.7 266.4h.01M116.0 260.9h.01M103.1 265.1h.01M105.3 263.6h.01M108.6 264.6h.01M102.0 259.1h.01M102.5 258.8h.01M103.4 273.4h.01M96.5 283.0h.01M109.0 271.3h.01M103.0 277.0h.01M107.1 266.9h.01M99.3 247.7h.01M108.9 277.5h.01M113.6 274.1h.01M116.0 262.1h.01M111.7 248.7h.01M134.0 277.8h.01M99.0 255.5h.01M127.1 268.3h.01M125.7 278.6h.01M101.0 281.5h.01M103.2 252.8h.01M125.6 281.2h.01M107.4 263.2h.01M125.1 259.4h.01M113.2 288.7h.01M100.3 286.6h.01M131.4 288.9h.01M105.1 255.3h.01M112.9 254.2h.01M132.9 271.0h.01M129.5 267.6h.01M115.4 287.1h.01M100.1 256.5h.01M130.1 271.7h.01M127.1 288.8h.01M126.6 272.6h.01M125.8 269.4h.01M104.0 260.7h.01M132.9 269.1h.01M96.3 273.9h.01M135.7 273.3h.01M115.2 266.2h.01M120.9 272.8h.01M115.0 284.9h.01M131.4 279.9h.01M124.7 277.2h.01M103.1 267.6h.01M105.9 255.6h.01M134.0 256.7h.01M128.4 282.0h.01M111.6 248.0h.01M102.3 274.1h.01M124.1 261.9h.01M119.6 253.8h.01M122.0 279.8h.01M127.1 270.6h.01M118.5 247.1h.01M105.9 264.1h.01M98.0 250.1h.01M134.3 275.7h.01" stroke="#000" stroke-width="0.55" stroke-linecap="round" opacity="0.5"/>
<g clip-path="url(#cp145)">
<radialGradient id="fg15"><stop offset="0.0" stop-color="#000" stop-opacity="0.5"/><stop offset="1" stop-color="#000" stop-opacity="0"/></radialGradient>
<ellipse cx="166.5" cy="264" rx="7.5" ry="9" fill="url(#fg15)" transform="rotate(0 166.5 264)"/>
<path d="M162.1,264.3 L168.8,258.8 L171.6,257.9 L171.0,264.3 L169.6,270.4 L165.8,272.2 L163.2,271.0 L162.0,268 Z" fill="#000" opacity="0.8" filter="url(#bl1)"/>
<path d="M163.6,264.3 L168.8,260.3 L170.4,259.9 L169.8,264.3 L168.6,269.4 L165.8,270.6 L164.2,269.6 L163.4,267.5 Z" fill="#000" opacity="0.6" filter="url(#bl05)"/>
<radialGradient id="fg16"><stop offset="0.0" stop-color="#000" stop-opacity="0.55"/><stop offset="1" stop-color="#000" stop-opacity="0"/></radialGradient>
<ellipse cx="176.2" cy="278.4" rx="6.5" ry="6" fill="url(#fg16)" transform="rotate(0 176.2 278.4)"/>
<radialGradient id="fg17"><stop offset="0.0" stop-color="#000" stop-opacity="0.7"/><stop offset="1" stop-color="#000" stop-opacity="0"/></radialGradient>
<ellipse cx="176.2" cy="278.4" rx="3" ry="2.8" fill="url(#fg17)" transform="rotate(0 176.2 278.4)"/>
<radialGradient id="fg18"><stop offset="0.0" stop-color="#000" stop-opacity="0.35"/><stop offset="1" stop-color="#000" stop-opacity="0"/></radialGradient>
<ellipse cx="153.5" cy="273.5" rx="6" ry="9" fill="url(#fg18)" transform="rotate(0 153.5 273.5)"/>
<radialGradient id="fg19"><stop offset="0.0" stop-color="#000" stop-opacity="0.25"/><stop offset="1" stop-color="#000" stop-opacity="0"/></radialGradient>
<ellipse cx="165" cy="284" rx="8" ry="4" fill="url(#fg19)" transform="rotate(0 165 284)"/>
</g>
<path d="M161.1 261.4h.01M170.2 259.3h.01M163.1 266.0h.01M175.8 261.9h.01M170.6 270.8h.01M164.3 260.8h.01M165.5 260.6h.01M166.4 258.2h.01M165.4 263.2h.01M174.3 257.6h.01M166.7 260.3h.01M166.2 261.8h.01M163.2 262.8h.01M163.4 264.7h.01M170.2 266.1h.01M166.7 266.8h.01M165.5 266.0h.01M176.7 265.7h.01M174.1 267.2h.01M164.8 265.1h.01M162.4 266.3h.01M171.0 265.9h.01M169.7 264.2h.01M164.7 255.6h.01M168.2 268.1h.01M169.6 262.7h.01M168.6 266.3h.01M168.8 260.9h.01M162.0 254.9h.01M164.7 261.9h.01M163.2 264.5h.01M161.3 264.8h.01M172.2 263.0h.01M159.6 263.6h.01M164.0 263.9h.01M165.0 260.9h.01M167.4 268.3h.01M165.5 264.1h.01M160.3 272.8h.01M162.9 263.7h.01M160.8 265.9h.01M162.6 263.9h.01M163.8 262.2h.01M164.9 259.7h.01M165.5 260.0h.01M164.9 261.7h.01M162.1 264.5h.01M168.5 264.2h.01M160.2 265.9h.01M169.3 256.0h.01M169.9 253.0h.01M167.2 266.4h.01M170.8 270.1h.01M167.7 267.6h.01M171.9 271.5h.01M167.2 267.2h.01M161.6 260.1h.01M171.4 265.4h.01M161.8 262.9h.01M159.7 263.2h.01M169.8 256.0h.01M166.0 265.1h.01M165.6 264.2h.01M163.7 260.1h.01M166.4 255.5h.01M165.9 257.1h.01M163.5 270.3h.01M164.8 261.6h.01M169.4 260.3h.01M164.0 263.4h.01M168.6 259.5h.01M166.1 255.4h.01M161.5 263.3h.01M163.8 264.8h.01M169.1 254.3h.01M167.5 264.3h.01M165.0 264.3h.01M163.3 265.6h.01M166.9 271.8h.01M159.0 259.0h.01M167.8 268.1h.01M161.6 258.8h.01M164.3 265.3h.01M162.8 267.8h.01M171.9 262.7h.01M170.5 256.9h.01M162.4 266.3h.01M169.6 257.8h.01M164.5 265.7h.01M166.1 260.3h.01M166.2 267.4h.01M164.4 258.0h.01M171.2 261.7h.01M158.6 265.0h.01M169.8 268.6h.01M169.9 263.7h.01M167.6 265.8h.01M172.6 265.3h.01M160.5 268.4h.01M166.9 263.1h.01M165.5 267.3h.01M166.4 265.1h.01M166.4 268.1h.01M162.0 265.6h.01M168.3 263.8h.01M172.0 271.3h.01M165.4 269.4h.01M163.8 273.0h.01M171.0 261.7h.01M169.5 266.4h.01M165.1 258.4h.01M165.8 268.4h.01M170.1 265.7h.01M168.2 260.0h.01M164.2 264.6h.01M165.6 259.5h.01M161.6 269.1h.01M166.1 265.7h.01M162.6 258.3h.01M169.8 265.4h.01M169.9 260.5h.01M164.8 265.3h.01M165.3 269.8h.01M171.3 260.6h.01M170.3 263.1h.01M169.6 265.7h.01M165.6 265.1h.01M173.8 268.8h.01M168.1 262.5h.01M175.8 270.2h.01M168.1 267.3h.01M166.9 267.0h.01M170.6 265.0h.01M166.7 262.3h.01M164.5 264.1h.01M168.4 254.5h.01M169.8 260.1h.01M170.3 269.6h.01M172.4 267.3h.01M164.0 273.0h.01M165.1 271.2h.01M163.7 264.1h.01M162.5 264.3h.01M169.2 268.7h.01M160.7 262.6h.01M163.7 269.3h.01M168.0 269.2h.01M166.9 271.9h.01M167.6 267.5h.01M169.4 265.6h.01M173.7 277.8h.01M181.7 283.1h.01M175.3 280.5h.01M170.6 282.0h.01M176.0 271.5h.01M173.1 277.6h.01M175.0 278.4h.01M173.4 272.8h.01M182.0 275.4h.01M172.3 273.8h.01M175.0 282.4h.01M180.6 284.8h.01M174.0 278.2h.01M181.2 278.0h.01M177.8 284.4h.01M172.7 275.2h.01M178.5 276.5h.01M175.4 282.5h.01M177.8 283.1h.01M173.8 278.7h.01M177.7 279.7h.01M169.1 275.1h.01M178.2 272.5h.01M170.3 276.1h.01M174.5 281.1h.01M178.5 277.0h.01M172.9 275.5h.01M180.6 279.7h.01M178.4 272.0h.01M169.5 281.8h.01M183.8 280.0h.01M173.4 273.1h.01M171.7 279.8h.01M177.4 276.4h.01M178.6 283.3h.01M178.0 276.8h.01M172.1 277.3h.01M173.6 284.1h.01M174.9 283.8h.01M174.5 279.3h.01M178.2 278.0h.01M176.9 278.9h.01M175.7 279.0h.01M181.0 284.7h.01M176.0 283.5h.01M176.3 278.9h.01M178.0 278.5h.01M180.0 277.4h.01M176.2 279.4h.01M174.2 276.2h.01M177.8 281.5h.01M175.4 275.6h.01M174.0 277.6h.01M175.2 278.1h.01M183.5 275.0h.01M172.6 276.7h.01M171.4 281.6h.01M171.2 276.0h.01M172.8 279.5h.01M175.8 276.4h.01M174.7 280.4h.01M178.2 284.5h.01M174.0 283.2h.01M184.0 280.6h.01M170.4 279.4h.01M180.0 281.1h.01M177.3 276.0h.01M179.2 280.1h.01M176.9 273.0h.01M179.1 279.5h.01M178.8 277.1h.01M182.4 281.7h.01M177.9 275.3h.01M174.2 273.4h.01M177.4 276.6h.01M175.2 271.2h.01M177.3 274.6h.01M168.3 283.9h.01M182.7 278.2h.01M168.6 278.1h.01M179.2 275.7h.01M179.5 281.6h.01M178.4 280.6h.01M172.3 276.8h.01M172.1 273.7h.01M179.1 277.5h.01M179.2 277.6h.01M172.7 282.8h.01M180.4 277.8h.01M178.1 272.7h.01M174.2 282.5h.01M176.9 278.2h.01M181.4 283.0h.01M172.8 277.1h.01M177.2 275.1h.01M178.3 280.7h.01M176.5 273.8h.01M175.7 278.4h.01M177.7 278.4h.01M175.1 284.0h.01M181.3 276.5h.01M171.8 282.0h.01M173.9 274.7h.01M177.2 274.4h.01M173.5 277.8h.01M176.5 276.9h.01M180.4 280.9h.01M183.2 280.3h.01M177.6 281.8h.01M175.9 282.1h.01M174.4 277.0h.01M166.9 276.1h.01M177.7 280.2h.01M176.8 279.8h.01M185.3 279.0h.01M177.2 278.2h.01M178.6 274.8h.01M178.2 284.8h.01M180.0 281.5h.01M173.6 274.0h.01M176.4 280.2h.01M174.2 276.4h.01M171.5 275.2h.01M181.9 279.4h.01M179.8 278.0h.01M173.3 277.1h.01M178.1 276.8h.01M179.6 280.6h.01M171.8 279.8h.01M178.6 285.4h.01M149.6 272.2h.01M153.5 271.8h.01M160.2 268.1h.01M153.3 280.1h.01M160.4 276.1h.01M158.8 272.2h.01M158.0 272.6h.01M158.7 265.0h.01M157.5 270.5h.01M152.4 273.4h.01M155.1 272.7h.01M148.8 269.5h.01M155.2 278.5h.01M153.3 274.3h.01M150.3 277.0h.01M152.3 264.4h.01M161.2 269.6h.01M153.3 281.7h.01M151.0 263.6h.01M155.8 277.7h.01M150.9 270.1h.01M157.1 270.4h.01M153.1 271.3h.01M162.1 263.9h.01M157.1 272.3h.01M159.2 258.7h.01M154.7 275.0h.01M147.4 258.1h.01M161.0 275.7h.01M151.1 267.7h.01M156.5 279.1h.01M150.8 273.5h.01M158.8 267.7h.01M156.3 280.7h.01M161.8 272.0h.01M157.4 275.6h.01M157.3 281.7h.01M160.0 279.1h.01M149.2 267.8h.01M161.1 269.4h.01M152.9 265.1h.01M148.9 271.4h.01M156.1 274.2h.01M151.9 267.7h.01M146.1 277.0h.01M148.6 279.8h.01M156.0 262.8h.01M154.0 281.7h.01M148.3 275.1h.01M155.7 275.5h.01M153.7 284.0h.01M154.3 267.7h.01M150.1 269.5h.01M150.4 272.4h.01M147.9 286.0h.01M155.0 271.5h.01M159.4 281.7h.01M148.1 276.5h.01M149.2 268.6h.01M155.4 271.6h.01M155.5 269.9h.01M156.5 275.8h.01M146.3 272.5h.01M155.0 278.9h.01M148.7 269.9h.01M151.9 266.8h.01M159.1 279.7h.01M153.9 271.3h.01M153.7 272.9h.01M151.3 265.8h.01M153.0 276.0h.01M153.2 281.9h.01M146.3 271.2h.01M156.1 280.9h.01M153.1 275.2h.01M154.2 276.2h.01M154.1 274.9h.01M157.2 272.6h.01M153.7 267.2h.01M150.5 273.2h.01M156.1 272.1h.01M160.2 270.9h.01M154.7 271.5h.01M159.3 272.8h.01M149.0 269.8h.01M163.3 271.7h.01M156.6 279.2h.01M152.7 269.9h.01M158.7 267.1h.01M155.9 277.0h.01M150.0 262.3h.01M156.7 273.4h.01M156.2 266.7h.01M151.6 276.9h.01M154.3 274.5h.01M151.7 274.8h.01M154.5 278.6h.01M155.3 276.5h.01M148.6 277.3h.01M157.7 261.3h.01M158.0 266.4h.01M156.1 269.7h.01M150.7 270.1h.01M156.3 271.4h.01M156.4 273.5h.01M159.7 288.2h.01M161.2 283.1h.01M173.5 288.4h.01M166.9 287.5h.01M168.6 281.0h.01M161.4 284.3h.01M172.5 282.4h.01M162.0 281.4h.01M163.6 281.2h.01M167.4 286.5h.01M165.9 278.0h.01M156.2 283.6h.01M173.0 282.3h.01M169.5 283.7h.01M172.0 280.4h.01M157.7 282.3h.01M165.5 284.5h.01M177.4 285.2h.01M158.5 286.4h.01M153.5 286.2h.01M164.5 281.1h.01M162.3 282.4h.01M168.3 283.4h.01M171.3 282.0h.01M167.9 288.3h.01M164.8 285.6h.01M168.2 277.9h.01M172.0 281.2h.01M162.8 282.6h.01M170.3 284.0h.01M164.1 283.5h.01M162.0 287.3h.01M158.9 284.5h.01M164.1 284.4h.01M161.6 281.8h.01M169.4 285.9h.01M160.2 279.7h.01M162.4 284.8h.01M159.3 281.1h.01M149.2 284.8h.01M160.1 286.7h.01M168.1 284.3h.01M166.3 285.8h.01M166.3 285.3h.01M172.0 282.1h.01M157.3 284.2h.01M164.4 280.8h.01M165.1 284.0h.01M174.4 285.1h.01M171.4 284.6h.01M159.3 283.7h.01M174.6 282.6h.01M150.6 282.3h.01M163.7 281.9h.01M167.1 285.3h.01M169.7 285.8h.01M161.8 282.7h.01M149.3 261.2h.01M164.8 283.9h.01M182.5 281.5h.01M156.7 281.6h.01M157.5 271.6h.01M167.9 256.8h.01M168.2 258.1h.01M178.7 256.9h.01M178.0 254.9h.01M146.4 265.4h.01M182.1 273.7h.01M156.3 268.2h.01M159.6 274.8h.01M157.8 254.0h.01M187.0 248.6h.01M151.6 260.4h.01M159.6 270.3h.01M166.3 253.5h.01M180.0 276.8h.01M153.5 254.1h.01M150.6 268.5h.01M172.1 277.2h.01M155.8 283.4h.01M183.0 266.9h.01M150.9 254.3h.01M175.5 249.8h.01M171.6 277.1h.01M146.8 253.2h.01M155.9 265.4h.01M180.9 280.5h.01M162.0 247.5h.01M168.2 255.2h.01M157.9 286.1h.01M157.8 263.6h.01M173.6 286.2h.01M148.5 271.8h.01M173.1 252.3h.01M150.2 261.0h.01M159.9 276.3h.01M185.7 274.8h.01M163.6 288.9h.01M184.3 265.5h.01M165.3 268.7h.01M150.3 274.0h.01M175.2 267.0h.01M170.0 285.2h.01M171.5 275.9h.01M182.2 277.8h.01M164.8 287.2h.01M184.8 250.4h.01" stroke="#000" stroke-width="0.55" stroke-linecap="round" opacity="0.5"/>
<line x1="233.75" y1="241.60" x2="233.75" y2="296.25" stroke="#222" stroke-width="0.9"/>
<line x1="231.30" y1="296.25" x2="233.75" y2="296.25" stroke="#222" stroke-width="0.8"/>
<text x="228.40" y="298.05" font-size="5.1" text-anchor="end" font-weight="normal" fill="#151515">0</text>
<line x1="231.30" y1="285.40" x2="233.75" y2="285.40" stroke="#222" stroke-width="0.8"/>
<text x="228.40" y="287.20" font-size="5.1" text-anchor="end" font-weight="normal" fill="#151515">20</text>
<line x1="231.30" y1="274.55" x2="233.75" y2="274.55" stroke="#222" stroke-width="0.8"/>
<text x="228.40" y="276.35" font-size="5.1" text-anchor="end" font-weight="normal" fill="#151515">40</text>
<line x1="231.30" y1="263.70" x2="233.75" y2="263.70" stroke="#222" stroke-width="0.8"/>
<text x="228.40" y="265.50" font-size="5.1" text-anchor="end" font-weight="normal" fill="#151515">60</text>
<line x1="231.30" y1="252.85" x2="233.75" y2="252.85" stroke="#222" stroke-width="0.8"/>
<text x="228.40" y="254.65" font-size="5.1" text-anchor="end" font-weight="normal" fill="#151515">80</text>
<line x1="231.30" y1="242.00" x2="233.75" y2="242.00" stroke="#222" stroke-width="0.8"/>
<text x="228.40" y="243.80" font-size="5.1" text-anchor="end" font-weight="normal" fill="#151515">100</text>
<text x="214.20" y="264.80" font-size="6.3" text-anchor="middle" font-weight="normal" fill="#151515" transform="rotate(-90 214.2 264.8)" textLength="45" lengthAdjust="spacingAndGlyphs">% IgM<tspan dy="-2" font-size="4.2">+</tspan><tspan dy="2"> CD5</tspan><tspan dy="-2" font-size="4.2">+</tspan><tspan dy="2"> cells</tspan></text>
<line x1="233.75" y1="296.10" x2="297.60" y2="296.10" stroke="#222" stroke-width="0.9"/>
<line x1="244.20" y1="296.10" x2="244.20" y2="298.10" stroke="#222" stroke-width="0.8"/>
<text x="246.60" y="305.80" font-size="5.8" text-anchor="end" font-weight="normal" fill="#151515" transform="rotate(-45 246.6 305.8)" textLength="13.5" lengthAdjust="spacingAndGlyphs">TCL1</text>
<line x1="265.50" y1="296.10" x2="265.50" y2="298.10" stroke="#222" stroke-width="0.8"/>
<text x="267.90" y="305.80" font-size="5.8" text-anchor="end" font-weight="normal" fill="#151515" transform="rotate(-45 267.9 305.8)" textLength="33.5" lengthAdjust="spacingAndGlyphs">TCL1/act-AID</text>
<line x1="287.30" y1="296.10" x2="287.30" y2="298.10" stroke="#222" stroke-width="0.8"/>
<text x="289.70" y="305.80" font-size="5.8" text-anchor="end" font-weight="normal" fill="#151515" transform="rotate(-45 289.7 305.8)" textLength="33.5" lengthAdjust="spacingAndGlyphs">TCL1/Igκ-AID</text>
<line x1="244.10" y1="258.10" x2="244.10" y2="261.80" stroke="#333" stroke-width="0.9"/>
<line x1="244.10" y1="284.40" x2="244.10" y2="290.80" stroke="#333" stroke-width="0.9"/>
<line x1="240.90" y1="258.10" x2="247.30" y2="258.10" stroke="#333" stroke-width="0.9"/>
<line x1="240.90" y1="290.80" x2="247.30" y2="290.80" stroke="#333" stroke-width="0.9"/>
<rect x="237.50" y="261.80" width="13.20" height="22.60" fill="#6fae45" stroke="#444" stroke-width="0.3"/>
<line x1="237.50" y1="274.80" x2="250.70" y2="274.80" stroke="#111" stroke-width="1.1"/>
<line x1="265.70" y1="246.40" x2="265.70" y2="248.30" stroke="#333" stroke-width="0.9"/>
<line x1="265.70" y1="266.80" x2="265.70" y2="272.10" stroke="#333" stroke-width="0.9"/>
<line x1="262.50" y1="246.40" x2="268.90" y2="246.40" stroke="#333" stroke-width="0.9"/>
<line x1="262.50" y1="272.10" x2="268.90" y2="272.10" stroke="#333" stroke-width="0.9"/>
<rect x="258.90" y="248.30" width="13.60" height="18.50" fill="#ba0c38" stroke="#444" stroke-width="0.3"/>
<line x1="258.90" y1="259.00" x2="272.50" y2="259.00" stroke="#111" stroke-width="1.1"/>
<line x1="287.10" y1="242.90" x2="287.10" y2="243.50" stroke="#333" stroke-width="0.9"/>
<line x1="287.10" y1="250.30" x2="287.10" y2="270.10" stroke="#333" stroke-width="0.9"/>
<line x1="283.70" y1="242.90" x2="290.50" y2="242.90" stroke="#333" stroke-width="0.9"/>
<line x1="283.70" y1="270.10" x2="290.50" y2="270.10" stroke="#333" stroke-width="0.9"/>
<rect x="280.30" y="243.50" width="13.60" height="6.80" fill="#5c3a14" stroke="#444" stroke-width="0.3"/>
<line x1="280.30" y1="244.60" x2="293.90" y2="244.60" stroke="#111" stroke-width="1.1"/>
<polyline points="243.50,238.80 243.50,236.80 286.70,236.80 286.70,238.80" stroke="#333" stroke-width="1.0" fill="none"/>
<polyline points="243.50,245.20 243.50,243.40 265.30,243.40 265.30,245.20" stroke="#333" stroke-width="1.0" fill="none"/>
<text x="265.30" y="236.20" font-size="4.6" text-anchor="middle" font-weight="normal" fill="#222">***</text>
<text x="254.50" y="242.60" font-size="4.6" text-anchor="middle" font-weight="normal" fill="#222">**</text>
<text x="405.60" y="230.20" font-size="7.4" text-anchor="middle" font-weight="normal" fill="#111" textLength="51.1" lengthAdjust="spacingAndGlyphs">Overall survival</text>
<rect x="351.00" y="235.00" width="2.00" height="95.00" fill="#6a6a6a"/>
<rect x="348.80" y="328.45" width="2.50" height="0.90" fill="#333"/>
<text x="346.20" y="330.80" font-size="5.3" text-anchor="end" font-weight="normal" fill="#151515">0</text>
<rect x="348.80" y="305.86" width="2.50" height="0.90" fill="#333"/>
<text x="346.20" y="308.21" font-size="5.3" text-anchor="end" font-weight="normal" fill="#151515">25</text>
<rect x="348.80" y="283.27" width="2.50" height="0.90" fill="#333"/>
<text x="346.20" y="285.62" font-size="5.3" text-anchor="end" font-weight="normal" fill="#151515">50</text>
<rect x="348.80" y="260.68" width="2.50" height="0.90" fill="#333"/>
<text x="346.20" y="263.03" font-size="5.3" text-anchor="end" font-weight="normal" fill="#151515">75</text>
<rect x="348.80" y="238.09" width="2.50" height="0.90" fill="#333"/>
<text x="346.20" y="240.44" font-size="5.3" text-anchor="end" font-weight="normal" fill="#151515">100</text>
<text x="330.50" y="282.20" font-size="6.0" text-anchor="middle" font-weight="normal" fill="#151515" transform="rotate(-90 330.5 282.2)" textLength="41.5" lengthAdjust="spacingAndGlyphs">Percent survival</text>
<rect x="351.00" y="328.50" width="108.40" height="1.50" fill="#333"/>
<rect x="369.25" y="329.00" width="0.90" height="2.60" fill="#333"/>
<text x="369.70" y="340.20" font-size="5.1" text-anchor="middle" font-weight="normal" fill="#151515" textLength="8.8" lengthAdjust="spacingAndGlyphs">100</text>
<rect x="386.55" y="329.00" width="0.90" height="2.60" fill="#333"/>
<text x="387.00" y="340.20" font-size="5.1" text-anchor="middle" font-weight="normal" fill="#151515" textLength="8.8" lengthAdjust="spacingAndGlyphs">200</text>
<rect x="403.85" y="329.00" width="0.90" height="2.60" fill="#333"/>
<text x="404.30" y="340.20" font-size="5.1" text-anchor="middle" font-weight="normal" fill="#151515" textLength="8.8" lengthAdjust="spacingAndGlyphs">300</text>
<rect x="421.15" y="329.00" width="0.90" height="2.60" fill="#333"/>
<text x="421.60" y="340.20" font-size="5.1" text-anchor="middle" font-weight="normal" fill="#151515" textLength="8.8" lengthAdjust="spacingAndGlyphs">400</text>
<rect x="438.45" y="329.00" width="0.90" height="2.60" fill="#333"/>
<text x="438.90" y="340.20" font-size="5.1" text-anchor="middle" font-weight="normal" fill="#151515" textLength="8.8" lengthAdjust="spacingAndGlyphs">500</text>
<rect x="455.75" y="329.00" width="0.90" height="2.60" fill="#333"/>
<text x="456.20" y="340.20" font-size="5.1" text-anchor="middle" font-weight="normal" fill="#151515" textLength="8.8" lengthAdjust="spacingAndGlyphs">600</text>
<text x="406.20" y="350.00" font-size="6.2" text-anchor="middle" font-weight="normal" fill="#151515" textLength="11.6" lengthAdjust="spacingAndGlyphs">Days</text>
<g stroke-linejoin="miter" fill="none">
<polyline points="353.00,238.50 354.61,238.50 354.61,238.50 356.22,238.50 356.22,238.50 357.83,238.50 357.83,238.50 359.43,238.50 359.43,238.50 361.04,238.50 361.04,238.50 362.65,238.50 362.65,238.50 364.26,238.50 364.26,238.50 365.87,238.50 365.87,238.50 367.48,238.50 367.48,238.50 369.09,238.50 369.09,238.50 370.70,238.50 370.70,238.50 372.30,238.50 372.30,238.50 373.91,238.50 373.91,238.50 375.52,238.50 375.52,238.50 377.13,238.50 377.13,238.50 378.74,238.50 378.74,238.50 380.35,238.50 380.35,238.50 381.96,238.50 381.96,238.50 383.57,238.50 383.57,238.50 385.17,238.50 385.17,238.50 386.78,238.50 386.78,238.50 388.39,238.50 388.39,238.50 390.00,238.50 390.00,238.50 391.40,238.50 391.40,240.60 392.45,240.60 392.45,242.10 393.50,242.10 393.50,243.60 395.10,243.60 395.10,244.70 396.70,244.70 396.70,245.80 397.35,245.80 397.35,247.35 398.00,247.35 398.00,248.90 398.20,248.90 398.20,250.27 398.40,250.27 398.40,251.63 398.60,251.63 398.60,253.00 398.97,253.00 398.97,254.63 399.33,254.63 399.33,256.27 399.70,256.27 399.70,257.90 400.55,257.90 400.55,259.30 401.40,259.30 401.40,260.70 402.30,260.70 402.30,262.10 403.20,262.10 403.20,263.50 404.25,263.50 404.25,265.20 405.30,265.20 405.30,266.90 405.65,266.90 405.65,268.30 406.00,268.30 406.00,269.70 406.35,269.70 406.35,271.10 406.70,271.10 406.70,272.50 407.05,272.50 407.05,273.90 407.40,273.90 407.40,275.30 409.40,275.30 409.40,277.00 410.80,277.00 410.80,277.50 412.20,277.50 412.20,278.00 412.50,278.00 412.50,280.00 412.77,280.00 412.77,281.40 413.03,281.40 413.03,282.80 413.30,282.80 413.30,284.20 413.73,284.20 413.73,285.87 414.17,285.87 414.17,287.53 414.60,287.53 414.60,289.20 416.05,289.20 416.05,290.00 417.50,290.00 417.50,290.80 418.33,290.80 418.33,292.62 419.17,292.62 419.17,294.43 420.00,294.43 420.00,296.25 420.85,296.25 420.85,297.50 421.70,297.50 421.70,298.75 422.30,298.75 422.30,300.00 423.07,300.00 423.07,301.47 423.83,301.47 423.83,302.93 424.60,302.93 424.60,304.40 426.15,304.40 426.15,305.75 427.70,305.75 427.70,307.10 428.55,307.10 428.55,308.65 429.40,308.65 429.40,310.20 430.00,310.20 430.00,311.83 430.60,311.83 430.60,313.47 431.20,313.47 431.20,315.10 432.55,315.10 432.55,316.20 433.90,316.20 433.90,317.30 434.50,317.30 434.50,318.80 435.10,318.80 435.10,320.30 435.70,320.30 435.70,321.80 437.00,321.80 437.00,323.10 438.30,323.10 438.30,324.40 440.60,324.40 440.60,326.70 442.80,326.70 442.80,328.40 444.00,328.40 444.00,329.00" stroke="#62b23c" stroke-width="1.15" fill="none"/>
<polyline points="379.60,238.50 380.50,238.50 380.50,239.88 381.40,239.88 381.40,241.25 382.80,241.25 382.80,243.30 383.60,243.30 383.60,245.05 384.40,245.05 384.40,246.80 385.10,246.80 385.10,248.40 385.80,248.40 385.80,250.00 385.91,250.00 385.91,251.75 386.02,251.75 386.02,253.50 386.14,253.50 386.14,255.25 386.25,255.25 386.25,257.00 387.50,257.00 387.50,259.20 388.20,259.20 388.20,260.57 388.90,260.57 388.90,261.93 389.60,261.93 389.60,263.30 391.05,263.30 391.05,264.77 392.50,264.77 392.50,266.25 394.20,266.25 394.20,268.30 394.23,268.30 394.23,269.70 394.27,269.70 394.27,271.10 394.30,271.10 394.30,272.50 394.85,272.50 394.85,274.15 395.40,274.15 395.40,275.80 396.05,275.80 396.05,277.70 396.70,277.70 396.70,279.60 397.53,279.60 397.53,280.98 398.37,280.98 398.37,282.37 399.20,282.37 399.20,283.75 400.17,283.75 400.17,285.27 401.13,285.27 401.13,286.78 402.10,286.78 402.10,288.30 403.35,288.30 403.35,289.55 404.60,289.55 404.60,290.80 406.25,290.80 406.25,292.10 406.53,292.10 406.53,293.48 406.82,293.48 406.82,294.87 407.10,294.87 407.10,296.25 407.37,296.25 407.37,297.77 407.63,297.77 407.63,299.28 407.90,299.28 407.90,300.80 409.10,300.80 409.10,302.60 410.30,302.60 410.30,304.40 411.50,304.40 411.50,305.90 412.70,305.90 412.70,307.40 413.90,307.40 413.90,308.90 415.65,308.90 415.65,310.25 417.40,310.25 417.40,311.60 418.55,311.60 418.55,312.90 419.70,312.90 419.70,314.20 420.55,314.20 420.55,315.75 421.40,315.75 421.40,317.30 422.75,317.30 422.75,318.20 424.10,318.20 424.10,319.10 425.65,319.10 425.65,319.55 427.20,319.55 427.20,320.00 427.65,320.00 427.65,321.35 428.10,321.35 428.10,322.70 429.60,322.70 429.60,323.13 431.10,323.13 431.10,323.57 432.60,323.57 432.60,324.00 434.30,324.00 434.30,325.30 435.93,325.30 435.93,325.77 437.57,325.77 437.57,326.23 439.20,326.23 439.20,326.70 441.40,326.70 441.40,329.00" stroke="#4e2e12" stroke-width="1.25" fill="none"/>
<polyline points="353.00,238.50 373.30,238.50" stroke="#c8284e" stroke-width="1.0" fill="none"/>
<polyline points="373.30,238.50 373.30,238.50 373.30,239.85 373.30,239.85 373.30,241.20 374.67,241.20 374.67,241.20 376.03,241.20 376.03,241.20 377.40,241.20 377.40,241.20 377.65,241.20 377.65,242.85 377.90,242.85 377.90,244.50 378.00,244.50 378.00,246.19 378.10,246.19 378.10,247.88 378.20,247.88 378.20,249.56 378.30,249.56 378.30,251.25 378.38,251.25 378.38,253.01 378.45,253.01 378.45,254.78 378.53,254.78 378.53,256.54 378.60,256.54 378.60,258.30 379.10,258.30 379.10,260.00 379.60,260.00 379.60,261.70 380.85,261.70 380.85,263.35 382.10,263.35 382.10,265.00 382.10,265.00 382.10,266.65 382.10,266.65 382.10,268.30 383.35,268.30 383.35,270.00 384.60,270.00 384.60,271.70 385.20,271.70 385.20,273.35 385.80,273.35 385.80,275.00 387.70,275.00 387.70,276.65 389.60,276.65 389.60,278.30 390.65,278.30 390.65,280.00 391.70,280.00 391.70,281.70 393.20,281.70 393.20,283.35 394.70,283.35 394.70,285.00 394.85,285.00 394.85,286.65 395.00,286.65 395.00,288.30 396.65,288.30 396.65,288.30 398.30,288.30 398.30,288.30 399.15,288.30 399.15,290.00 400.00,290.00 400.00,291.70 400.62,291.70 400.62,293.55 401.25,293.55 401.25,295.40 402.73,295.40 402.73,295.40 404.20,295.40 404.20,295.40 404.30,295.40 404.30,296.97 404.40,296.97 404.40,298.55 404.50,298.55 404.50,300.12 404.60,300.12 404.60,301.70 405.20,301.70 405.20,303.35 405.80,303.35 405.80,305.00 406.30,305.00 406.30,307.10 406.60,307.10 406.60,308.60 406.90,308.60 406.90,310.10 407.20,310.10 407.20,311.60 407.90,311.60 407.90,313.60 408.60,313.60 408.60,315.60 410.20,315.60 410.20,315.60 411.80,315.60 411.80,315.60 413.40,315.60 413.40,315.60 415.00,315.60 415.00,315.60 416.60,315.60 416.60,315.60 416.60,315.60 416.60,317.15 416.60,317.15 416.60,318.70 417.70,318.70 417.70,320.45 418.80,320.45 418.80,322.20 420.48,322.20 420.48,322.20 422.16,322.20 422.16,322.20 423.84,322.20 423.84,322.20 425.52,322.20 425.52,322.20 427.20,322.20 427.20,322.20 427.45,322.20 427.45,324.00 427.70,324.00 427.70,325.80 429.45,325.80 429.45,326.25 431.20,326.25 431.20,326.70 431.20,326.70 431.20,329.00" stroke="#c8284e" stroke-width="0.8" fill="none"/>
</g>
<circle cx="377.90" cy="244.50" r="0.75" fill="#b01838"/>
<circle cx="378.30" cy="251.25" r="0.75" fill="#b01838"/>
<circle cx="378.60" cy="258.30" r="0.75" fill="#b01838"/>
<circle cx="379.60" cy="261.70" r="0.75" fill="#b01838"/>
<circle cx="382.10" cy="265.00" r="0.75" fill="#b01838"/>
<circle cx="382.10" cy="268.30" r="0.75" fill="#b01838"/>
<circle cx="384.60" cy="271.70" r="0.75" fill="#b01838"/>
<circle cx="385.80" cy="275.00" r="0.75" fill="#b01838"/>
<circle cx="389.60" cy="278.30" r="0.75" fill="#b01838"/>
<circle cx="391.70" cy="281.70" r="0.75" fill="#b01838"/>
<circle cx="394.70" cy="285.00" r="0.75" fill="#b01838"/>
<circle cx="395.00" cy="288.30" r="0.75" fill="#b01838"/>
<circle cx="398.30" cy="288.30" r="0.75" fill="#b01838"/>
<circle cx="400.00" cy="291.70" r="0.75" fill="#b01838"/>
<circle cx="401.25" cy="295.40" r="0.75" fill="#b01838"/>
<circle cx="404.20" cy="295.40" r="0.75" fill="#b01838"/>
<circle cx="404.60" cy="301.70" r="0.75" fill="#b01838"/>
<circle cx="405.80" cy="305.00" r="0.75" fill="#b01838"/>
<circle cx="406.30" cy="307.10" r="0.75" fill="#b01838"/>
<circle cx="407.20" cy="311.60" r="0.75" fill="#b01838"/>
<circle cx="408.60" cy="315.60" r="0.75" fill="#b01838"/>
<circle cx="416.60" cy="315.60" r="0.75" fill="#b01838"/>
<circle cx="416.60" cy="318.70" r="0.75" fill="#b01838"/>
<circle cx="418.80" cy="322.20" r="0.75" fill="#b01838"/>
<circle cx="427.20" cy="322.20" r="0.75" fill="#b01838"/>
<circle cx="427.70" cy="325.80" r="0.75" fill="#b01838"/>
<circle cx="431.20" cy="326.70" r="0.75" fill="#b01838"/>
<rect x="413.20" y="239.25" width="7.40" height="0.90" fill="#c8284e"/>
<rect x="416.30" y="239.00" width="1.30" height="1.40" fill="#c8284e"/>
<text x="424.40" y="241.30" font-size="4.6" text-anchor="start" font-weight="normal" fill="#1a1a1a" textLength="63.4" lengthAdjust="spacingAndGlyphs">TCL1/act-AID (median 245 days)</text>
<rect x="413.20" y="249.50" width="7.40" height="0.90" fill="#62b23c"/>
<rect x="416.30" y="249.25" width="1.30" height="1.40" fill="#62b23c"/>
<text x="424.40" y="251.55" font-size="4.6" text-anchor="start" font-weight="normal" fill="#1a1a1a" textLength="46.9" lengthAdjust="spacingAndGlyphs">TCL1 (median 365 days)</text>
<rect x="413.20" y="259.75" width="7.40" height="0.90" fill="#4e2e12"/>
<rect x="416.30" y="259.50" width="1.30" height="1.40" fill="#4e2e12"/>
<text x="424.40" y="261.80" font-size="4.6" text-anchor="start" font-weight="normal" fill="#1a1a1a" textLength="69.7" lengthAdjust="spacingAndGlyphs">Eμ-TCL1/Igk-AID (median 270 days)</text>
<polyline points="499.60,237.30 501.30,237.30 501.30,249.60 499.60,249.60" stroke="#333" stroke-width="0.9" fill="none"/>
<polyline points="499.60,252.80 501.30,252.80 501.30,264.80 499.60,264.80" stroke="#333" stroke-width="0.9" fill="none"/>
<text x="504.00" y="244.40" font-size="4.6" text-anchor="start" font-weight="normal" fill="#151515" textLength="7.8" lengthAdjust="spacingAndGlyphs">****</text>
<text x="504.40" y="260.60" font-size="4.6" text-anchor="start" font-weight="normal" fill="#151515" textLength="3.9" lengthAdjust="spacingAndGlyphs">**</text>
<rect x="0.00" y="0.00" width="520.00" height="1.00" fill="#000"/>
<rect x="0.00" y="0.00" width="1.00" height="360.00" fill="#000"/>
<rect x="518.75" y="0.00" width="1.25" height="360.00" fill="#000"/>
<rect x="0.00" y="358.75" width="520.00" height="1.25" fill="#000"/>
</svg></body></html>
